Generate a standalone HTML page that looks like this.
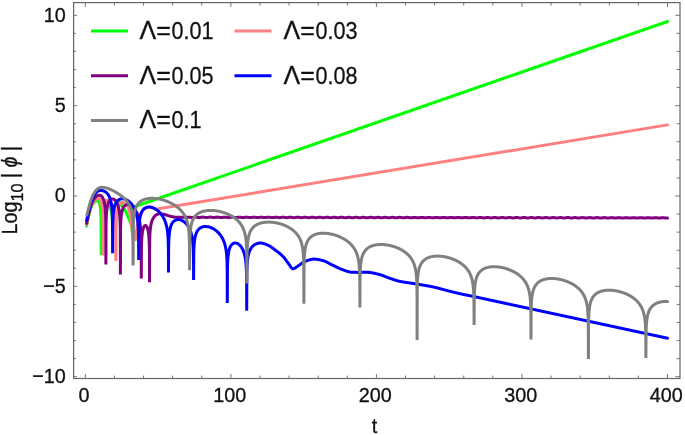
<!DOCTYPE html>
<html lang="en">
<head>
<meta charset="utf-8">
<title>Log10 |phi| versus t</title>
<style>
html,body{margin:0;padding:0;background:#fff;}
body{width:685px;height:435px;overflow:hidden;}
svg{display:block;}
text{font-family:"Liberation Sans",Arial,Helvetica,sans-serif;fill:#111;stroke:#111;stroke-width:0.3px;}
.tk text{font-size:19.8px;}
.curves path{fill:none;stroke-width:3;stroke-linejoin:bevel;stroke-linecap:round;}
</style>
</head>
<body>
<svg width="685" height="435" viewBox="0 0 685 435">
<rect width="685" height="435" fill="#ffffff"/>
<g class="curves">
<path d="M86.60,226.00 L86.80,224.97 L87.00,223.97 L87.20,222.98 L87.40,222.01 L87.60,221.05 L87.80,220.12 L88.00,219.21 L88.20,218.31 L88.40,217.44 L88.60,216.59 L88.80,215.76 L89.00,214.93 L89.20,214.11 L89.40,213.29 L89.60,212.49 L89.80,211.71 L90.00,210.96 L90.20,210.25 L90.40,209.60 L90.60,208.99 L90.80,208.45 L91.00,207.94 L91.20,207.45 L91.40,206.99 L91.60,206.54 L91.80,206.11 L92.00,205.71 L92.20,205.32 L92.40,204.96 L92.60,204.61 L92.80,204.29 L93.00,203.98 L93.20,203.69 L93.40,203.41 L93.60,203.13 L93.80,202.86 L94.00,202.61 L94.20,202.36 L94.40,202.13 L94.60,201.92 L94.80,201.73 L95.00,201.57 L95.20,201.43 L95.40,201.32 L95.60,201.21 L95.80,201.11 L96.00,201.01 L96.20,200.92 L96.40,200.84 L96.60,200.77 L96.80,200.70 L97.00,200.65 L97.20,200.62 L97.40,200.60 L97.50,200.60 L97.65,200.61 L97.80,200.64 L97.95,200.70 L98.10,200.77 L98.25,200.88 L98.40,201.01 L98.55,201.16 L98.70,201.35 L98.85,201.58 L99.00,201.84 L99.15,202.15 L99.30,202.50 L99.45,202.91 L99.60,203.39 L99.75,203.93 L99.90,204.57 L100.05,205.32 L100.20,206.21 L100.35,207.28 L100.50,208.61 L100.65,210.31 L100.80,212.63 L100.95,216.14 L101.10,223.16 L101.20,255.00 L101.35,222.29 L101.50,216.96 L101.65,213.90 L101.80,211.77 L101.95,210.15 L102.10,208.85 L102.25,207.78 L102.40,206.87 L102.55,206.10 L102.70,205.42 L102.85,204.83 L103.00,204.30 L103.15,203.84 L103.30,203.43 L103.45,203.06 L103.60,202.73 L103.75,202.44 L103.90,202.18 L104.05,201.94 L104.20,201.74 L104.35,201.56 L104.50,201.40 L104.65,201.26 L104.80,201.14 L104.95,201.04 L105.10,200.96 L105.25,200.90 L105.40,200.85 L105.55,200.82 L105.70,200.80 L105.85,200.80 L106.00,200.81 L106.15,200.84 L106.30,200.88 L106.45,200.93 L106.60,200.99 L106.75,201.07 L106.90,201.16 L107.05,201.27 L107.20,201.38 L107.35,201.51 L107.50,201.66 L107.65,201.81 L107.80,201.98 L107.95,202.16 L108.10,202.36 L108.25,202.56 L108.40,202.79 L108.55,203.03 L108.70,203.28 L108.85,203.55 L109.00,203.83 L109.15,204.13 L109.30,204.45 L109.45,204.79 L109.60,205.15 L109.75,205.53 L109.90,205.93 L110.05,206.35 L110.20,206.81 L110.35,207.29 L110.50,207.80 L110.65,208.35 L110.80,208.94 L110.95,209.57 L111.10,210.26 L111.25,211.00 L111.40,211.82 L111.55,212.71 L111.70,213.71 L111.85,214.84 L112.00,216.13 L112.15,217.65 L112.30,219.49 L112.45,221.84 L112.60,225.12 L112.75,230.67 L112.90,232.00 L113.05,224.34 L113.20,218.99 L113.35,215.89 L113.50,213.72 L113.65,212.06 L113.80,210.73 L113.95,209.62 L114.10,208.68 L114.25,207.86 L114.40,207.14 L114.55,206.51 L114.70,205.94 L114.85,205.44 L115.00,204.98 L115.15,204.56 L115.30,204.19 L115.45,203.85 L115.60,203.54 L115.75,203.26 L115.90,203.00 L116.05,202.77 L116.20,202.56 L116.35,202.37 L116.50,202.20 L116.65,202.05 L116.80,201.91 L116.95,201.79 L117.10,201.68 L117.25,201.59 L117.40,201.51 L117.55,201.44 L117.70,201.39 L117.85,201.35 L118.00,201.32 L118.15,201.31 L118.30,201.30 L118.55,201.34 L118.80,201.45 L119.05,201.61 L119.30,201.82 L119.55,202.05 L119.80,202.30 L120.05,202.64 L120.30,203.13 L120.55,203.70 L120.80,204.29 L121.05,204.84 L121.30,205.30 L121.55,205.67 L121.80,206.00 L122.05,206.30 L122.30,206.58 L122.55,206.85 L122.80,207.11 L123.05,207.36 L123.30,207.63 L123.55,207.91 L123.80,208.21 L124.05,208.54 L124.30,208.90 L124.55,209.30 L124.80,209.75 L125.05,210.22 L125.30,210.73 L125.55,211.26 L125.80,211.81 L126.05,212.37 L126.30,212.93 L126.55,213.50 L126.80,214.06 L127.05,214.61 L127.30,215.16 L127.55,215.71 L127.80,216.27 L128.05,216.83 L128.30,217.40 L128.55,217.98 L128.80,218.56 L129.05,219.16 L129.30,219.76 L129.55,220.38 L129.80,220.98 L130.05,221.56 L130.30,222.14 L130.55,222.77 L130.80,223.48 L131.05,224.32 L131.30,225.26 L131.55,226.34 L131.80,227.73 L132.05,229.58 L132.30,232.48 L132.55,234.00 L132.60,234.00 L132.85,224.11 L133.10,215.26 L133.35,211.14 L133.60,209.72 L133.85,208.80 L134.10,208.20 L134.35,207.72 L134.60,207.32 L134.85,206.98 L135.10,206.70 L135.35,206.47 L135.60,206.30 L135.85,206.16 L136.10,206.03 L136.35,205.91 L136.60,205.80 L136.85,205.70 L137.10,205.61 L137.35,205.55 L137.60,205.50 L137.85,205.47 L138.00,205.47 L667.50,21.47" stroke="#00ff00"/>
<path d="M86.60,224.50 L86.80,223.53 L87.00,222.57 L87.20,221.62 L87.40,220.70 L87.60,219.79 L87.80,218.89 L88.00,218.02 L88.20,217.16 L88.40,216.32 L88.60,215.49 L88.80,214.69 L89.00,213.90 L89.20,213.12 L89.40,212.34 L89.60,211.56 L89.80,210.79 L90.00,210.05 L90.20,209.33 L90.40,208.64 L90.60,207.99 L90.80,207.39 L91.00,206.84 L91.20,206.34 L91.40,205.86 L91.60,205.40 L91.80,204.95 L92.00,204.53 L92.20,204.12 L92.40,203.74 L92.60,203.37 L92.80,203.01 L93.00,202.68 L93.20,202.36 L93.40,202.06 L93.60,201.77 L93.80,201.50 L94.00,201.23 L94.20,200.97 L94.40,200.72 L94.60,200.47 L94.80,200.24 L95.00,200.02 L95.20,199.82 L95.40,199.63 L95.60,199.47 L95.80,199.32 L96.00,199.20 L96.20,199.10 L96.40,199.00 L96.60,198.91 L96.80,198.82 L97.00,198.73 L97.20,198.65 L97.40,198.58 L97.60,198.52 L97.80,198.47 L98.00,198.43 L98.20,198.41 L98.40,198.40 L98.55,198.41 L98.70,198.43 L98.85,198.46 L99.00,198.51 L99.15,198.58 L99.30,198.66 L99.45,198.75 L99.60,198.87 L99.75,199.01 L99.90,199.16 L100.05,199.34 L100.20,199.55 L100.35,199.78 L100.50,200.03 L100.65,200.33 L100.80,200.65 L100.95,201.02 L101.10,201.43 L101.25,201.90 L101.40,202.43 L101.55,203.03 L101.70,203.72 L101.85,204.52 L102.00,205.45 L102.15,206.57 L102.30,207.94 L102.45,209.69 L102.60,212.04 L102.75,215.58 L102.90,222.64 L103.00,255.50 L103.15,221.34 L103.30,216.04 L103.45,213.01 L103.60,210.90 L103.75,209.30 L103.90,208.03 L104.05,206.98 L104.20,206.10 L104.35,205.34 L104.50,204.69 L104.65,204.12 L104.80,203.61 L104.95,203.17 L105.10,202.77 L105.25,202.42 L105.40,202.11 L105.55,201.83 L105.70,201.58 L105.85,201.36 L106.00,201.17 L106.15,201.00 L106.30,200.85 L106.45,200.72 L106.60,200.62 L106.75,200.52 L106.90,200.45 L107.05,200.39 L107.20,200.35 L107.35,200.32 L107.50,200.30 L107.65,200.30 L107.80,200.31 L107.95,200.33 L108.10,200.37 L108.25,200.42 L108.40,200.47 L108.55,200.54 L108.70,200.62 L108.85,200.71 L109.00,200.82 L109.15,200.93 L109.30,201.05 L109.45,201.19 L109.60,201.33 L109.75,201.48 L109.90,201.65 L110.05,201.82 L110.20,202.01 L110.35,202.21 L110.50,202.42 L110.65,202.63 L110.80,202.87 L110.95,203.11 L111.10,203.36 L111.25,203.63 L111.40,203.91 L111.55,204.20 L111.70,204.51 L111.85,204.83 L112.00,205.16 L112.15,205.52 L112.30,205.88 L112.45,206.27 L112.60,206.68 L112.75,207.10 L112.90,207.55 L113.05,208.02 L113.20,208.52 L113.35,209.04 L113.50,209.60 L113.65,210.19 L113.80,210.81 L113.95,211.49 L114.10,212.21 L114.25,212.99 L114.40,213.84 L114.55,214.77 L114.70,215.80 L114.85,216.97 L115.00,218.29 L115.15,219.84 L115.30,221.72 L115.45,224.10 L115.60,227.41 L115.75,232.98 L115.90,260.90 L116.05,227.40 L116.20,222.01 L116.35,218.88 L116.50,216.67 L116.65,214.98 L116.80,213.60 L116.95,212.46 L117.10,211.47 L117.25,210.61 L117.40,209.86 L117.55,209.18 L117.70,208.58 L117.85,208.03 L118.00,207.53 L118.15,207.07 L118.30,206.65 L118.45,206.27 L118.60,205.92 L118.75,205.59 L118.90,205.29 L119.05,205.01 L119.20,204.75 L119.35,204.52 L119.50,204.30 L119.65,204.09 L119.80,203.91 L119.95,203.74 L120.10,203.58 L120.25,203.44 L120.40,203.31 L120.55,203.19 L120.70,203.08 L120.85,202.99 L121.00,202.90 L121.15,202.83 L121.30,202.77 L121.45,202.72 L121.60,202.67 L121.75,202.64 L121.90,202.62 L122.05,202.60 L122.20,202.60 L122.45,202.62 L122.70,202.66 L122.95,202.72 L123.20,202.80 L123.45,202.88 L123.70,202.98 L123.95,203.08 L124.20,203.20 L124.45,203.32 L124.70,203.45 L124.95,203.57 L125.20,203.71 L125.45,203.87 L125.70,204.04 L125.95,204.24 L126.20,204.46 L126.45,204.70 L126.70,204.96 L126.95,205.24 L127.20,205.54 L127.45,205.87 L127.70,206.25 L127.95,206.69 L128.20,207.21 L128.45,207.79 L128.70,208.43 L128.95,209.15 L129.20,210.04 L129.45,211.11 L129.70,212.33 L129.95,213.63 L130.20,215.06 L130.45,216.70 L130.70,218.46 L130.95,220.26 L131.20,222.02 L131.45,223.80 L131.70,225.67 L131.95,227.71 L132.20,230.00 L132.45,232.65 L132.70,235.82 L132.95,239.43 L133.20,240.00 L133.45,240.00 L133.60,238.54 L133.75,235.61 L133.90,233.72 L134.05,232.45 L134.20,231.62 L134.35,231.15 L134.50,231.00 L134.65,231.15 L134.80,231.62 L134.95,232.45 L135.10,233.72 L135.25,235.61 L135.40,238.54 L135.55,239.70 L135.95,239.70 L136.20,237.02 L136.45,233.69 L136.70,230.97 L136.95,228.51 L137.20,226.25 L137.45,224.24 L137.70,222.55 L137.95,221.22 L138.20,220.21 L138.45,219.33 L138.70,218.57 L138.95,217.89 L139.20,217.28 L139.45,216.71 L139.70,216.16 L139.95,215.61 L140.20,215.06 L140.45,214.53 L140.70,214.04 L140.95,213.56 L141.20,213.11 L141.45,212.68 L141.70,212.27 L141.95,211.86 L142.20,211.47 L142.45,211.11 L142.70,210.77 L142.95,210.46 L143.20,210.18 L143.45,209.91 L143.70,209.65 L143.95,209.40 L144.20,209.18 L144.45,208.97 L144.70,208.79 L144.95,208.63 L145.20,208.49 L145.45,208.36 L145.70,208.25 L145.95,208.14 L146.20,208.04 L146.45,207.95 L146.70,207.87 L146.95,207.81 L147.20,207.76 L147.45,207.70 L147.70,207.65 L147.95,207.60 L148.20,207.56 L148.45,207.53 L148.70,207.51 L148.95,207.50 L149.20,207.50 L149.45,207.51 L149.70,207.53 L149.95,207.56 L150.20,207.59 L150.45,207.62 L150.70,207.66 L150.95,207.69 L151.20,207.73 L151.45,207.78 L151.70,207.84 L151.95,207.90 L152.20,207.97 L152.45,208.04 L152.70,208.11 L152.95,208.19 L153.20,208.27 L153.45,208.36 L153.70,208.47 L153.95,208.59 L154.20,208.69 L154.45,208.78 L154.70,208.85 L154.95,208.90 L155.20,208.91 L155.45,208.93 L155.70,208.94 L155.95,208.95 L156.20,208.96 L156.45,208.96 L156.70,208.97 L156.95,208.97 L157.20,208.97 L157.45,208.95 L157.70,208.92 L157.95,208.89 L158.20,208.84 L158.45,208.80 L158.70,208.74 L158.95,208.69 L159.20,208.64 L159.45,208.58 L159.70,208.53 L159.95,208.49 L160.20,208.45 L160.45,208.41 L160.70,208.37 L160.95,208.32 L161.20,208.28 L161.45,208.24 L161.70,208.20 L161.95,208.16 L162.20,208.12 L162.45,208.08 L162.70,208.04 L162.95,208.00 L163.20,207.95 L163.45,207.91 L163.70,207.87 L163.95,207.83 L164.20,207.79 L164.45,207.75 L164.70,207.71 L164.95,207.66 L165.20,207.62 L165.45,207.58 L165.70,207.54 L165.95,207.50 L166.00,207.49 L667.50,124.89" stroke="#ff8080"/>
<path d="M86.60,223.30 L86.80,222.33 L87.00,221.36 L87.20,220.42 L87.40,219.49 L87.60,218.57 L87.80,217.67 L88.00,216.79 L88.20,215.92 L88.40,215.07 L88.60,214.23 L88.80,213.41 L89.00,212.61 L89.20,211.83 L89.40,211.04 L89.60,210.26 L89.80,209.48 L90.00,208.71 L90.20,207.96 L90.40,207.23 L90.60,206.53 L90.80,205.86 L91.00,205.23 L91.20,204.65 L91.40,204.12 L91.60,203.62 L91.80,203.15 L92.00,202.69 L92.20,202.25 L92.40,201.82 L92.60,201.42 L92.80,201.03 L93.00,200.65 L93.20,200.29 L93.40,199.95 L93.60,199.62 L93.80,199.31 L94.00,199.02 L94.20,198.74 L94.40,198.47 L94.60,198.20 L94.80,197.94 L95.00,197.69 L95.20,197.45 L95.40,197.21 L95.60,196.99 L95.80,196.78 L96.00,196.59 L96.20,196.42 L96.40,196.26 L96.60,196.13 L96.80,196.02 L97.00,195.92 L97.20,195.82 L97.40,195.73 L97.60,195.64 L97.80,195.55 L98.00,195.47 L98.20,195.40 L98.40,195.34 L98.60,195.29 L98.80,195.25 L99.00,195.22 L99.20,195.20 L99.30,195.20 L99.45,195.20 L99.60,195.22 L99.75,195.24 L99.90,195.27 L100.05,195.31 L100.20,195.36 L100.35,195.41 L100.50,195.48 L100.65,195.56 L100.80,195.64 L100.95,195.74 L101.10,195.85 L101.25,195.97 L101.40,196.10 L101.55,196.24 L101.70,196.40 L101.85,196.57 L102.00,196.75 L102.15,196.95 L102.30,197.16 L102.45,197.39 L102.60,197.64 L102.75,197.91 L102.90,198.20 L103.05,198.51 L103.20,198.84 L103.35,199.21 L103.50,199.60 L103.65,200.03 L103.80,200.49 L103.95,201.00 L104.10,201.55 L104.25,202.17 L104.40,202.85 L104.55,203.62 L104.70,204.48 L104.85,205.47 L105.00,206.63 L105.15,208.01 L105.30,209.71 L105.45,211.92 L105.60,215.06 L105.75,220.46 L105.90,264.60 L106.05,224.16 L106.20,218.76 L106.35,215.62 L106.50,213.41 L106.65,211.71 L106.80,210.33 L106.95,209.17 L107.10,208.18 L107.25,207.32 L107.40,206.55 L107.55,205.87 L107.70,205.25 L107.85,204.70 L108.00,204.19 L108.15,203.73 L108.30,203.30 L108.45,202.91 L108.60,202.54 L108.75,202.21 L108.90,201.90 L109.05,201.61 L109.20,201.34 L109.35,201.09 L109.50,200.86 L109.65,200.65 L109.80,200.45 L109.95,200.27 L110.10,200.10 L110.25,199.94 L110.40,199.80 L110.55,199.67 L110.70,199.55 L110.85,199.44 L111.00,199.34 L111.15,199.26 L111.30,199.18 L111.45,199.11 L111.60,199.06 L111.75,199.01 L111.90,198.97 L112.05,198.94 L112.20,198.92 L112.35,198.90 L112.50,198.90 L112.65,198.90 L112.80,198.92 L112.95,198.94 L113.10,198.97 L113.25,199.00 L113.40,199.05 L113.55,199.10 L113.70,199.17 L113.85,199.24 L114.00,199.32 L114.15,199.41 L114.30,199.50 L114.45,199.61 L114.60,199.72 L114.75,199.85 L114.90,199.98 L115.05,200.12 L115.20,200.27 L115.35,200.44 L115.50,200.61 L115.65,200.79 L115.80,200.99 L115.95,201.20 L116.10,201.42 L116.25,201.65 L116.40,201.89 L116.55,202.15 L116.70,202.43 L116.85,202.72 L117.00,203.03 L117.15,203.36 L117.30,203.70 L117.45,204.07 L117.60,204.46 L117.75,204.88 L117.90,205.32 L118.05,205.80 L118.20,206.31 L118.35,206.86 L118.50,207.46 L118.65,208.10 L118.80,208.81 L118.95,209.59 L119.10,210.46 L119.25,211.44 L119.40,212.55 L119.55,213.84 L119.70,215.39 L119.85,217.31 L120.00,219.83 L120.15,223.55 L120.30,230.78 L120.40,274.40 L120.55,229.18 L120.70,223.83 L120.85,220.74 L121.00,218.58 L121.15,216.92 L121.30,215.58 L121.45,214.47 L121.60,213.52 L121.75,212.69 L121.90,211.97 L122.05,211.32 L122.20,210.74 L122.35,210.22 L122.50,209.74 L122.65,209.30 L122.80,208.91 L122.95,208.54 L123.10,208.20 L123.25,207.89 L123.40,207.60 L123.55,207.33 L123.70,207.08 L123.85,206.85 L124.00,206.64 L124.15,206.44 L124.30,206.25 L124.45,206.08 L124.60,205.92 L124.75,205.77 L124.90,205.63 L125.05,205.50 L125.20,205.39 L125.35,205.28 L125.50,205.18 L125.65,205.08 L125.80,205.00 L125.95,204.92 L126.10,204.85 L126.25,204.79 L126.40,204.73 L126.55,204.68 L126.70,204.64 L126.85,204.60 L127.00,204.57 L127.15,204.55 L127.30,204.53 L127.45,204.51 L127.60,204.50 L127.75,204.50 L127.90,204.50 L128.05,204.51 L128.20,204.52 L128.35,204.53 L128.50,204.55 L128.65,204.58 L128.80,204.61 L128.95,204.64 L129.10,204.68 L129.25,204.72 L129.40,204.76 L129.55,204.81 L129.70,204.87 L129.85,204.93 L130.00,204.99 L130.15,205.06 L130.30,205.13 L130.45,205.20 L130.60,205.28 L130.75,205.36 L130.90,205.45 L131.05,205.54 L131.20,205.63 L131.35,205.73 L131.50,205.84 L131.65,205.94 L131.80,206.05 L131.95,206.17 L132.10,206.29 L132.25,206.41 L132.40,206.54 L132.55,206.67 L132.70,206.80 L132.85,206.94 L133.00,207.09 L133.15,207.24 L133.30,207.39 L133.45,207.55 L133.60,207.71 L133.75,207.88 L133.90,208.05 L134.05,208.23 L134.20,208.41 L134.35,208.60 L134.50,208.79 L134.65,208.99 L134.80,209.19 L134.95,209.40 L135.10,209.62 L135.25,209.84 L135.40,210.07 L135.55,210.30 L135.70,210.55 L135.85,210.79 L136.00,211.05 L136.15,211.32 L136.30,211.59 L136.45,211.87 L136.60,212.16 L136.75,212.46 L136.90,212.77 L137.05,213.09 L137.20,213.42 L137.35,213.76 L137.50,214.12 L137.65,214.49 L137.80,214.87 L137.95,215.27 L138.10,215.69 L138.25,216.13 L138.40,216.58 L138.55,217.06 L138.70,217.56 L138.85,218.10 L139.00,218.66 L139.15,219.25 L139.30,219.89 L139.45,220.57 L139.60,221.31 L139.75,222.11 L139.90,222.98 L140.05,223.94 L140.20,225.02 L140.35,226.25 L140.50,227.68 L140.65,229.39 L140.80,231.53 L140.95,234.41 L141.10,238.89 L141.25,249.86 L141.30,278.50 L141.45,247.92 L141.60,242.49 L141.75,239.33 L141.90,237.11 L142.05,235.40 L142.20,234.01 L142.35,232.86 L142.50,231.88 L142.65,231.03 L142.80,230.28 L142.95,229.63 L143.10,229.05 L143.25,228.53 L143.40,228.07 L143.55,227.66 L143.70,227.30 L143.85,226.97 L144.00,226.69 L144.15,226.44 L144.30,226.22 L144.45,226.03 L144.60,225.87 L144.75,225.75 L144.90,225.64 L145.05,225.57 L145.20,225.52 L145.35,225.50 L145.50,225.51 L145.65,225.54 L145.80,225.59 L145.95,225.68 L146.10,225.79 L146.25,225.92 L146.40,226.09 L146.55,226.29 L146.70,226.52 L146.85,226.78 L147.00,227.08 L147.15,227.41 L147.30,227.79 L147.45,228.22 L147.60,228.70 L147.75,229.23 L147.90,229.84 L148.05,230.52 L148.20,231.30 L148.35,232.19 L148.50,233.22 L148.65,234.44 L148.80,235.92 L148.95,237.78 L149.10,240.25 L149.25,243.92 L149.40,251.10 L149.50,282.20 L149.65,242.38 L149.80,236.97 L149.95,233.82 L150.10,231.60 L150.25,229.88 L150.40,228.49 L150.55,227.32 L150.70,226.31 L150.85,225.42 L151.00,224.63 L151.15,223.93 L151.30,223.29 L151.45,222.70 L151.60,222.16 L151.75,221.67 L151.90,221.21 L152.05,220.78 L152.20,220.38 L152.35,220.01 L152.50,219.65 L152.65,219.32 L152.80,219.01 L152.95,218.71 L153.10,218.43 L153.25,218.17 L153.40,217.92 L153.55,217.68 L153.70,217.45 L153.85,217.24 L154.00,217.03 L154.15,216.84 L154.30,216.65 L154.45,216.48 L154.60,216.31 L154.75,216.15 L154.90,215.99 L155.05,215.85 L155.20,215.71 L155.35,215.57 L155.50,215.45 L155.65,215.33 L155.80,215.21 L155.95,215.10 L156.10,215.00 L156.25,214.90 L156.40,214.81 L156.55,214.72 L156.70,214.64 L156.85,214.56 L157.00,214.48 L157.15,214.41 L157.30,214.35 L157.45,214.29 L157.60,214.23 L157.75,214.17 L157.90,214.12 L158.05,214.08 L158.20,214.04 L158.35,214.00 L158.50,213.96 L158.65,213.93 L158.80,213.90 L158.95,213.88 L159.10,213.86 L159.25,213.84 L159.40,213.83 L159.55,213.81 L159.70,213.81 L159.85,213.80 L160.00,213.80 L160.25,213.82 L160.50,213.85 L160.75,213.87 L161.00,213.90 L161.25,213.93 L161.50,213.96 L161.75,214.00 L162.00,214.04 L162.25,214.08 L162.50,214.12 L162.75,214.16 L163.00,214.20 L163.25,214.25 L163.50,214.30 L163.75,214.34 L164.00,214.39 L164.25,214.44 L164.50,214.49 L164.75,214.55 L165.00,214.60 L165.25,214.66 L165.50,214.72 L165.75,214.79 L166.00,214.87 L166.25,214.95 L166.50,215.03 L166.75,215.12 L167.00,215.21 L167.25,215.31 L167.50,215.40 L167.75,215.49 L168.00,215.58 L168.25,215.68 L168.50,215.76 L168.75,215.85 L169.00,215.93 L169.25,216.01 L169.50,216.08 L169.75,216.14 L170.00,216.20 L170.25,216.25 L170.50,216.31 L170.75,216.36 L171.00,216.42 L171.25,216.47 L171.50,216.53 L171.75,216.58 L172.00,216.64 L172.25,216.69 L172.50,216.74 L172.75,216.79 L173.00,216.84 L173.25,216.89 L173.50,216.94 L173.75,216.98 L174.00,217.02 L174.25,217.07 L174.50,217.10 L174.75,217.14 L175.00,217.17 L175.25,217.20 L175.50,217.22 L175.75,217.25 L176.00,217.27 L176.25,217.28 L176.50,217.29 L176.75,217.30 L177.00,217.30 L190.00,217.30 L190.50,217.39 L191.00,217.47 L191.50,217.51 L192.00,217.52 L192.50,217.49 L193.00,217.42 L193.50,217.33 L194.00,217.24 L194.50,217.16 L195.00,217.10 L195.50,217.09 L196.00,217.11 L196.50,217.17 L197.00,217.25 L197.50,217.35 L198.00,217.43 L198.50,217.50 L199.00,217.53 L199.50,217.52 L200.00,217.47 L200.50,217.40 L201.00,217.30 L201.50,217.21 L202.00,217.14 L202.50,217.10 L203.00,217.10 L203.50,217.14 L204.00,217.21 L204.50,217.30 L205.00,217.39 L205.50,217.47 L206.00,217.53 L206.50,217.54 L207.00,217.51 L207.50,217.45 L208.00,217.37 L208.50,217.28 L209.00,217.19 L209.50,217.13 L210.00,217.11 L210.50,217.12 L211.00,217.17 L211.50,217.25 L212.00,217.35 L212.50,217.44 L213.00,217.51 L213.50,217.55 L214.00,217.54 L214.50,217.50 L215.00,217.43 L215.50,217.34 L216.00,217.25 L216.50,217.17 L217.00,217.13 L217.50,217.12 L218.00,217.15 L218.50,217.21 L219.00,217.30 L219.50,217.39 L220.00,217.48 L220.50,217.54 L221.00,217.56 L221.50,217.54 L222.00,217.49 L222.50,217.41 L223.00,217.31 L223.50,217.23 L224.00,217.16 L224.50,217.13 L225.00,217.13 L225.50,217.18 L226.00,217.25 L226.50,217.35 L227.00,217.44 L227.50,217.51 L228.00,217.56 L228.50,217.57 L229.00,217.53 L229.50,217.47 L230.00,217.38 L230.50,217.29 L231.00,217.20 L231.50,217.15 L232.00,217.13 L232.50,217.16 L233.00,217.21 L233.50,217.30 L234.00,217.39 L234.50,217.48 L235.00,217.55 L235.50,217.58 L236.00,217.57 L236.50,217.52 L237.00,217.44 L237.50,217.35 L238.00,217.26 L238.50,217.19 L239.00,217.15 L239.50,217.15 L240.00,217.18 L240.50,217.25 L241.00,217.35 L241.50,217.44 L242.00,217.52 L242.50,217.57 L243.00,217.59 L243.50,217.56 L244.00,217.50 L244.50,217.42 L245.00,217.32 L245.50,217.24 L246.00,217.18 L246.50,217.15 L247.00,217.17 L247.50,217.22 L248.00,217.30 L248.50,217.39 L249.00,217.48 L249.50,217.55 L250.00,217.59 L250.50,217.59 L251.00,217.55 L251.50,217.48 L252.00,217.39 L252.50,217.30 L253.00,217.22 L253.50,217.17 L254.00,217.16 L254.50,217.19 L255.00,217.26 L255.50,217.34 L256.00,217.44 L256.50,217.52 L257.00,217.58 L257.50,217.60 L258.00,217.59 L258.50,217.53 L259.00,217.45 L259.50,217.36 L260.00,217.27 L260.50,217.20 L261.00,217.17 L261.50,217.18 L262.00,217.22 L262.50,217.30 L263.00,217.39 L263.50,217.48 L264.00,217.56 L264.50,217.61 L265.00,217.61 L265.50,217.58 L266.00,217.51 L266.50,217.42 L267.00,217.33 L267.50,217.25 L268.00,217.20 L268.50,217.18 L269.00,217.20 L269.50,217.26 L270.00,217.34 L270.50,217.44 L271.00,217.53 L271.50,217.59 L272.00,217.62 L272.50,217.61 L273.00,217.56 L273.50,217.49 L274.00,217.40 L274.50,217.31 L275.00,217.23 L275.50,217.19 L276.00,217.19 L276.50,217.23 L277.00,217.30 L277.50,217.39 L278.00,217.48 L278.50,217.57 L279.00,217.62 L279.50,217.63 L280.00,217.61 L280.50,217.55 L281.00,217.46 L281.50,217.37 L282.00,217.28 L282.50,217.22 L283.00,217.20 L283.50,217.21 L284.00,217.26 L284.50,217.34 L285.00,217.44 L285.50,217.53 L286.00,217.60 L286.50,217.64 L287.00,217.64 L287.50,217.60 L288.00,217.52 L288.50,217.43 L289.00,217.34 L289.50,217.26 L290.00,217.22 L290.50,217.21 L291.00,217.24 L291.50,217.30 L292.00,217.39 L292.50,217.48 L293.00,217.57 L293.50,217.63 L294.00,217.65 L294.50,217.63 L295.00,217.58 L295.50,217.50 L296.00,217.40 L296.50,217.32 L297.00,217.25 L297.50,217.22 L298.00,217.22 L298.50,217.27 L299.00,217.35 L299.50,217.44 L300.00,217.53 L300.50,217.61 L301.00,217.65 L301.50,217.66 L302.00,217.62 L302.50,217.56 L303.00,217.47 L303.50,217.38 L304.00,217.30 L304.50,217.24 L305.00,217.22 L305.50,217.25 L306.00,217.31 L306.50,217.39 L307.00,217.48 L307.50,217.57 L308.00,217.64 L308.50,217.67 L309.00,217.66 L309.50,217.61 L310.00,217.53 L310.50,217.44 L311.00,217.35 L311.50,217.28 L312.00,217.24 L312.50,217.24 L313.00,217.28 L313.50,217.35 L314.00,217.44 L314.50,217.53 L315.00,217.61 L315.50,217.66 L316.00,217.68 L316.50,217.65 L317.00,217.59 L317.50,217.51 L318.00,217.41 L318.50,217.33 L319.00,217.27 L319.50,217.24 L320.00,217.26 L320.50,217.31 L321.00,217.39 L321.50,217.48 L322.00,217.57 L322.50,217.65 L323.00,217.68 L323.50,217.68 L324.00,217.64 L324.50,217.57 L325.00,217.48 L325.50,217.39 L326.00,217.31 L326.50,217.26 L327.00,217.25 L327.50,217.28 L328.00,217.35 L328.50,217.44 L329.00,217.53 L329.50,217.62 L330.00,217.67 L330.50,217.70 L331.00,217.68 L331.50,217.62 L332.00,217.54 L332.50,217.45 L333.00,217.36 L333.50,217.30 L334.00,217.26 L334.50,217.27 L335.00,217.32 L335.50,217.39 L336.00,217.48 L336.50,217.58 L337.00,217.65 L337.50,217.70 L338.00,217.70 L338.50,217.67 L339.00,217.60 L339.50,217.52 L340.00,217.42 L340.50,217.34 L341.00,217.29 L341.50,217.27 L342.00,217.29 L342.50,217.35 L343.00,217.44 L343.50,217.53 L344.00,217.62 L344.50,217.68 L345.00,217.71 L345.50,217.70 L346.00,217.66 L346.50,217.58 L347.00,217.49 L347.50,217.40 L348.00,217.33 L348.50,217.29 L349.00,217.28 L349.50,217.32 L350.00,217.39 L350.50,217.48 L351.00,217.58 L351.50,217.66 L352.00,217.71 L352.50,217.72 L353.00,217.70 L353.50,217.64 L354.00,217.55 L354.50,217.46 L355.00,217.37 L355.50,217.31 L356.00,217.29 L356.50,217.30 L357.00,217.36 L357.50,217.44 L358.00,217.53 L358.50,217.62 L359.00,217.69 L359.50,217.73 L360.00,217.73 L360.50,217.69 L361.00,217.62 L361.50,217.52 L362.00,217.43 L362.50,217.36 L363.00,217.31 L363.50,217.30 L364.00,217.33 L364.50,217.39 L365.00,217.48 L365.50,217.58 L366.00,217.66 L366.50,217.72 L367.00,217.74 L367.50,217.72 L368.00,217.67 L368.50,217.59 L369.00,217.50 L369.50,217.41 L370.00,217.34 L370.50,217.31 L371.00,217.32 L371.50,217.36 L372.00,217.44 L372.50,217.53 L373.00,217.62 L373.50,217.70 L374.00,217.74 L374.50,217.75 L375.00,217.72 L375.50,217.65 L376.00,217.56 L376.50,217.47 L377.00,217.39 L377.50,217.33 L378.00,217.32 L378.50,217.34 L379.00,217.40 L379.50,217.48 L380.00,217.58 L380.50,217.66 L381.00,217.73 L381.50,217.76 L382.00,217.75 L382.50,217.70 L383.00,217.63 L383.50,217.53 L384.00,217.44 L384.50,217.37 L385.00,217.33 L385.50,217.33 L386.00,217.37 L386.50,217.44 L387.00,217.53 L387.50,217.62 L388.00,217.70 L388.50,217.75 L389.00,217.77 L389.50,217.74 L390.00,217.68 L390.50,217.60 L391.00,217.51 L391.50,217.42 L392.00,217.36 L392.50,217.33 L393.00,217.35 L393.50,217.40 L394.00,217.48 L394.50,217.58 L395.00,217.67 L395.50,217.74 L396.00,217.77 L396.50,217.77 L397.00,217.73 L397.50,217.66 L398.00,217.57 L398.50,217.48 L399.00,217.40 L399.50,217.35 L400.00,217.35 L400.50,217.38 L401.00,217.44 L401.50,217.53 L402.00,217.62 L402.50,217.71 L403.00,217.77 L403.50,217.79 L404.00,217.77 L404.50,217.72 L405.00,217.64 L405.50,217.54 L406.00,217.45 L406.50,217.39 L407.00,217.36 L407.50,217.36 L408.00,217.41 L408.50,217.48 L409.00,217.58 L409.50,217.67 L410.00,217.74 L410.50,217.79 L411.00,217.80 L411.50,217.76 L412.00,217.70 L412.50,217.61 L413.00,217.51 L413.50,217.43 L414.00,217.38 L414.50,217.36 L415.00,217.38 L415.50,217.44 L416.00,217.53 L416.50,217.62 L417.00,217.71 L417.50,217.77 L418.00,217.81 L418.50,217.80 L419.00,217.75 L419.50,217.67 L420.00,217.58 L420.50,217.49 L421.00,217.42 L421.50,217.38 L422.00,217.38 L422.50,217.41 L423.00,217.48 L423.50,217.57 L424.00,217.67 L424.50,217.75 L425.00,217.80 L425.50,217.82 L426.00,217.79 L426.50,217.73 L427.00,217.64 L427.50,217.55 L428.00,217.47 L428.50,217.41 L429.00,217.38 L429.50,217.40 L430.00,217.45 L430.50,217.53 L431.00,217.62 L431.50,217.71 L432.00,217.78 L432.50,217.82 L433.00,217.82 L433.50,217.78 L434.00,217.71 L434.50,217.62 L435.00,217.52 L435.50,217.45 L436.00,217.40 L436.50,217.39 L437.00,217.42 L437.50,217.49 L438.00,217.57 L438.50,217.67 L439.00,217.75 L439.50,217.81 L440.00,217.83 L440.50,217.82 L441.00,217.76 L441.50,217.68 L442.00,217.59 L442.50,217.50 L443.00,217.43 L443.50,217.40 L444.00,217.41 L444.50,217.45 L445.00,217.53 L445.50,217.62 L446.00,217.71 L446.50,217.79 L447.00,217.83 L447.50,217.84 L448.00,217.81 L448.50,217.74 L449.00,217.65 L449.50,217.56 L450.00,217.48 L450.50,217.43 L451.00,217.41 L451.50,217.43 L452.00,217.49 L452.50,217.57 L453.00,217.67 L453.50,217.76 L454.00,217.82 L454.50,217.85 L455.00,217.84 L455.50,217.79 L456.00,217.72 L456.50,217.63 L457.00,217.54 L457.50,217.46 L458.00,217.42 L458.50,217.42 L459.00,217.46 L459.50,217.53 L460.00,217.62 L460.50,217.71 L461.00,217.79 L461.50,217.85 L462.00,217.86 L462.50,217.84 L463.00,217.78 L463.50,217.69 L464.00,217.60 L464.50,217.51 L465.00,217.45 L465.50,217.43 L466.00,217.44 L466.50,217.49 L467.00,217.57 L467.50,217.67 L468.00,217.76 L468.50,217.83 L469.00,217.87 L469.50,217.87 L470.00,217.82 L470.50,217.75 L471.00,217.66 L471.50,217.57 L472.00,217.49 L472.50,217.45 L473.00,217.44 L473.50,217.47 L474.00,217.53 L474.50,217.62 L475.00,217.71 L475.50,217.80 L476.00,217.86 L476.50,217.88 L477.00,217.86 L477.50,217.81 L478.00,217.73 L478.50,217.63 L479.00,217.55 L479.50,217.48 L480.00,217.45 L480.50,217.45 L481.00,217.50 L481.50,217.57 L482.00,217.67 L482.50,217.76 L483.00,217.83 L483.50,217.88 L484.00,217.89 L484.50,217.85 L485.00,217.79 L485.50,217.70 L486.00,217.61 L486.50,217.53 L487.00,217.47 L487.50,217.45 L488.00,217.48 L488.50,217.54 L489.00,217.62 L489.50,217.71 L490.00,217.80 L490.50,217.87 L491.00,217.90 L491.50,217.89 L492.00,217.84 L492.50,217.76 L493.00,217.67 L493.50,217.58 L494.00,217.51 L494.50,217.47 L495.00,217.47 L495.50,217.51 L496.00,217.58 L496.50,217.67 L497.00,217.76 L497.50,217.84 L498.00,217.89 L498.50,217.91 L499.00,217.88 L499.50,217.82 L500.00,217.74 L500.50,217.64 L501.00,217.56 L501.50,217.50 L502.00,217.47 L502.50,217.49 L503.00,217.54 L503.50,217.62 L504.00,217.71 L504.50,217.80 L505.00,217.87 L505.50,217.91 L506.00,217.91 L506.50,217.87 L507.00,217.80 L507.50,217.71 L508.00,217.62 L508.50,217.54 L509.00,217.49 L509.50,217.48 L510.00,217.51 L510.50,217.58 L511.00,217.67 L511.50,217.76 L512.00,217.84 L512.50,217.90 L513.00,217.93 L513.50,217.91 L514.00,217.85 L514.50,217.77 L515.00,217.68 L515.50,217.59 L516.00,217.53 L516.50,217.49 L517.00,217.50 L517.50,217.54 L518.00,217.62 L518.50,217.71 L519.00,217.81 L519.50,217.88 L520.00,217.93 L520.50,217.93 L521.00,217.90 L521.50,217.83 L522.00,217.75 L522.50,217.65 L523.00,217.57 L523.50,217.52 L524.00,217.50 L524.50,217.52 L525.00,217.58 L525.50,217.67 L526.00,217.76 L526.50,217.85 L527.00,217.91 L527.50,217.94 L528.00,217.93 L528.50,217.89 L529.00,217.81 L529.50,217.72 L530.00,217.63 L530.50,217.56 L531.00,217.51 L531.50,217.51 L532.00,217.55 L532.50,217.62 L533.00,217.71 L533.50,217.81 L534.00,217.89 L534.50,217.94 L535.00,217.95 L535.50,217.93 L536.00,217.87 L536.50,217.78 L537.00,217.69 L537.50,217.60 L538.00,217.54 L538.50,217.52 L539.00,217.53 L539.50,217.59 L540.00,217.67 L540.50,217.76 L541.00,217.85 L541.50,217.92 L542.00,217.96 L542.50,217.96 L543.00,217.92 L543.50,217.84 L544.00,217.75 L544.50,217.66 L545.00,217.59 L545.50,217.54 L546.00,217.53 L546.50,217.56 L547.00,217.62 L547.50,217.71 L548.00,217.81 L548.50,217.89 L549.00,217.95 L549.50,217.97 L550.00,217.95 L550.50,217.90 L551.00,217.82 L551.50,217.73 L552.00,217.64 L552.50,217.57 L553.00,217.54 L553.50,217.55 L554.00,217.59 L554.50,217.67 L555.00,217.76 L555.50,217.85 L556.00,217.93 L556.50,217.97 L557.00,217.98 L557.50,217.95 L558.00,217.88 L558.50,217.79 L559.00,217.70 L559.50,217.62 L560.00,217.56 L560.50,217.55 L561.00,217.57 L561.50,217.63 L562.00,217.71 L562.50,217.81 L563.00,217.89 L563.50,217.96 L564.00,217.99 L564.50,217.98 L565.00,217.93 L565.50,217.85 L566.00,217.76 L566.50,217.67 L567.00,217.60 L567.50,217.56 L568.00,217.56 L568.50,217.60 L569.00,217.67 L569.50,217.76 L570.00,217.85 L570.50,217.93 L571.00,217.98 L571.50,218.00 L572.00,217.97 L572.50,217.91 L573.00,217.83 L573.50,217.73 L574.00,217.65 L574.50,217.59 L575.00,217.56 L575.50,217.58 L576.00,217.63 L576.50,217.71 L577.00,217.81 L577.50,217.90 L578.00,217.97 L578.50,218.00 L579.00,218.00 L579.50,217.96 L580.00,217.89 L580.50,217.80 L581.00,217.71 L581.50,217.63 L582.00,217.58 L582.50,217.57 L583.00,217.60 L583.50,217.67 L584.00,217.76 L584.50,217.85 L585.00,217.94 L585.50,217.99 L586.00,218.02 L586.50,218.00 L587.00,217.95 L587.50,217.86 L588.00,217.77 L588.50,217.68 L589.00,217.62 L589.50,217.58 L590.00,217.59 L590.50,217.64 L591.00,217.71 L591.50,217.80 L592.00,217.90 L592.50,217.97 L593.00,218.02 L593.50,218.02 L594.00,217.99 L594.50,217.93 L595.00,217.84 L595.50,217.74 L596.00,217.66 L596.50,217.61 L597.00,217.59 L597.50,217.61 L598.00,217.67 L598.50,217.76 L599.00,217.85 L599.50,217.94 L600.00,218.00 L600.50,218.03 L601.00,218.03 L601.50,217.98 L602.00,217.90 L602.50,217.81 L603.00,217.72 L603.50,217.65 L604.00,217.61 L604.50,217.60 L605.00,217.64 L605.50,217.71 L606.00,217.80 L606.50,217.90 L607.00,217.98 L607.50,218.03 L608.00,218.04 L608.50,218.02 L609.00,217.96 L609.50,217.87 L610.00,217.78 L610.50,217.70 L611.00,217.64 L611.50,217.61 L612.00,217.62 L612.50,217.68 L613.00,217.76 L613.50,217.85 L614.00,217.94 L614.50,218.01 L615.00,218.05 L615.50,218.05 L616.00,218.01 L616.50,217.94 L617.00,217.85 L617.50,217.75 L618.00,217.68 L618.50,217.63 L619.00,217.62 L619.50,217.65 L620.00,217.72 L620.50,217.80 L621.00,217.90 L621.50,217.98 L622.00,218.04 L622.50,218.06 L623.00,218.05 L623.50,217.99 L624.00,217.91 L624.50,217.82 L625.00,217.73 L625.50,217.66 L626.00,217.63 L626.50,217.64 L627.00,217.68 L627.50,217.76 L628.00,217.85 L628.50,217.94 L629.00,218.02 L629.50,218.06 L630.00,218.07 L630.50,218.04 L631.00,217.97 L631.50,217.88 L632.00,217.79 L632.50,217.71 L633.00,217.65 L633.50,217.64 L634.00,217.66 L634.50,217.72 L635.00,217.80 L635.50,217.90 L636.00,217.99 L636.50,218.05 L637.00,218.08 L637.50,218.07 L638.00,218.02 L638.50,217.95 L639.00,217.85 L639.50,217.76 L640.00,217.69 L640.50,217.65 L641.00,217.65 L641.50,217.69 L642.00,217.76 L642.50,217.85 L643.00,217.94 L643.50,218.02 L644.00,218.08 L644.50,218.09 L645.00,218.07 L645.50,218.00 L646.00,217.92 L646.50,217.83 L647.00,217.74 L647.50,217.68 L648.00,217.66 L648.50,217.67 L649.00,217.72 L649.50,217.80 L650.00,217.90 L650.50,217.99 L651.00,218.06 L651.50,218.10 L652.00,218.09 L652.50,218.05 L653.00,217.98 L653.50,217.89 L654.00,217.80 L654.50,217.72 L655.00,217.68 L655.50,217.67 L656.00,217.70 L656.50,217.76 L657.00,217.85 L657.50,217.94 L658.00,218.03 L658.50,218.09 L659.00,218.11 L659.50,218.09 L660.00,218.04 L660.50,217.96 L661.00,217.86 L661.50,217.78 L662.00,217.71 L662.50,217.68 L663.00,217.68 L663.50,217.73 L664.00,217.80 L664.50,217.90 L665.00,217.99 L665.50,218.06 L666.00,218.11 L666.50,218.12 L667.00,218.08 L667.50,218.02" stroke="#800080"/>
<path d="M86.60,220.50 L86.80,219.55 L87.00,218.60 L87.20,217.67 L87.40,216.76 L87.60,215.86 L87.80,214.97 L88.00,214.09 L88.20,213.23 L88.40,212.39 L88.60,211.56 L88.80,210.74 L89.00,209.94 L89.20,209.15 L89.40,208.38 L89.60,207.62 L89.80,206.85 L90.00,206.08 L90.20,205.33 L90.40,204.58 L90.60,203.85 L90.80,203.14 L91.00,202.46 L91.20,201.81 L91.40,201.20 L91.60,200.62 L91.80,200.09 L92.00,199.60 L92.20,199.12 L92.40,198.67 L92.60,198.23 L92.80,197.80 L93.00,197.39 L93.20,196.99 L93.40,196.61 L93.60,196.25 L93.80,195.90 L94.00,195.56 L94.20,195.24 L94.40,194.93 L94.60,194.63 L94.80,194.35 L95.00,194.08 L95.20,193.82 L95.40,193.56 L95.60,193.31 L95.80,193.06 L96.00,192.82 L96.20,192.59 L96.40,192.37 L96.60,192.16 L96.80,191.97 L97.00,191.79 L97.20,191.63 L97.40,191.49 L97.60,191.37 L97.80,191.26 L98.00,191.17 L98.20,191.07 L98.40,190.98 L98.60,190.89 L98.80,190.80 L99.00,190.72 L99.20,190.65 L99.40,190.58 L99.60,190.53 L99.80,190.48 L100.00,190.44 L100.20,190.42 L100.40,190.40 L100.50,190.40 L100.65,190.40 L100.80,190.40 L100.95,190.41 L101.10,190.42 L101.25,190.43 L101.40,190.44 L101.55,190.46 L101.70,190.48 L101.85,190.50 L102.00,190.53 L102.15,190.55 L102.30,190.58 L102.45,190.61 L102.60,190.65 L102.75,190.69 L102.90,190.73 L103.05,190.77 L103.20,190.82 L103.35,190.87 L103.50,190.92 L103.65,190.98 L103.80,191.04 L103.95,191.10 L104.10,191.17 L104.25,191.23 L104.40,191.31 L104.55,191.38 L104.70,191.46 L104.85,191.55 L105.00,191.64 L105.15,191.73 L105.30,191.82 L105.45,191.92 L105.60,192.03 L105.75,192.14 L105.90,192.25 L106.05,192.37 L106.20,192.49 L106.35,192.62 L106.50,192.76 L106.65,192.90 L106.80,193.04 L106.95,193.19 L107.10,193.35 L107.25,193.52 L107.40,193.69 L107.55,193.87 L107.70,194.05 L107.85,194.25 L108.00,194.45 L108.15,194.67 L108.30,194.89 L108.45,195.12 L108.60,195.37 L108.75,195.62 L108.90,195.89 L109.05,196.18 L109.20,196.47 L109.35,196.79 L109.50,197.12 L109.65,197.47 L109.80,197.84 L109.95,198.24 L110.10,198.66 L110.25,199.11 L110.40,199.59 L110.55,200.11 L110.70,200.67 L110.85,201.29 L111.00,201.96 L111.15,202.70 L111.30,203.53 L111.45,204.46 L111.60,205.53 L111.75,206.78 L111.90,208.27 L112.05,210.14 L112.20,212.61 L112.35,216.28 L112.50,223.45 L112.60,253.20 L112.75,225.80 L112.90,220.42 L113.05,217.30 L113.20,215.11 L113.35,213.42 L113.50,212.06 L113.65,210.91 L113.80,209.93 L113.95,209.07 L114.10,208.32 L114.25,207.64 L114.40,207.02 L114.55,206.47 L114.70,205.96 L114.85,205.49 L115.00,205.06 L115.15,204.66 L115.30,204.28 L115.45,203.93 L115.60,203.61 L115.75,203.30 L115.90,203.02 L116.05,202.75 L116.20,202.50 L116.35,202.26 L116.50,202.03 L116.65,201.82 L116.80,201.62 L116.95,201.43 L117.10,201.25 L117.25,201.08 L117.40,200.92 L117.55,200.76 L117.70,200.62 L117.85,200.48 L118.00,200.35 L118.15,200.23 L118.30,200.11 L118.45,200.00 L118.60,199.90 L118.75,199.80 L118.90,199.71 L119.05,199.63 L119.20,199.54 L119.35,199.47 L119.50,199.40 L119.65,199.33 L119.80,199.27 L119.95,199.21 L120.10,199.16 L120.25,199.11 L120.40,199.06 L120.55,199.02 L120.70,198.98 L120.85,198.95 L121.00,198.92 L121.15,198.89 L121.30,198.87 L121.45,198.85 L121.60,198.83 L121.75,198.82 L121.90,198.81 L122.05,198.80 L122.20,198.80 L122.35,198.80 L122.50,198.80 L122.65,198.81 L122.80,198.82 L122.95,198.83 L123.10,198.84 L123.25,198.86 L123.40,198.88 L123.55,198.90 L123.70,198.93 L123.85,198.95 L124.00,198.98 L124.15,199.02 L124.30,199.05 L124.45,199.09 L124.60,199.13 L124.75,199.18 L124.90,199.22 L125.05,199.27 L125.20,199.32 L125.35,199.38 L125.50,199.43 L125.65,199.49 L125.80,199.56 L125.95,199.62 L126.10,199.69 L126.25,199.76 L126.40,199.83 L126.55,199.90 L126.70,199.98 L126.85,200.06 L127.00,200.14 L127.15,200.23 L127.30,200.31 L127.45,200.40 L127.60,200.50 L127.75,200.59 L127.90,200.69 L128.05,200.79 L128.20,200.90 L128.35,201.00 L128.50,201.11 L128.65,201.23 L128.80,201.34 L128.95,201.46 L129.10,201.58 L129.25,201.71 L129.40,201.83 L129.55,201.96 L129.70,202.10 L129.85,202.24 L130.00,202.38 L130.15,202.52 L130.30,202.67 L130.45,202.82 L130.60,202.97 L130.75,203.13 L130.90,203.29 L131.05,203.46 L131.20,203.63 L131.35,203.80 L131.50,203.98 L131.65,204.17 L131.80,204.35 L131.95,204.55 L132.10,204.74 L132.25,204.94 L132.40,205.15 L132.55,205.36 L132.70,205.58 L132.85,205.81 L133.00,206.04 L133.15,206.27 L133.30,206.52 L133.45,206.77 L133.60,207.03 L133.75,207.29 L133.90,207.57 L134.05,207.85 L134.20,208.14 L134.35,208.44 L134.50,208.75 L134.65,209.07 L134.80,209.41 L134.95,209.75 L135.10,210.11 L135.25,210.49 L135.40,210.88 L135.55,211.28 L135.70,211.71 L135.85,212.15 L136.00,212.62 L136.15,213.12 L136.30,213.64 L136.45,214.19 L136.60,214.78 L136.75,215.41 L136.90,216.09 L137.05,216.82 L137.20,217.62 L137.35,218.50 L137.50,219.48 L137.65,220.58 L137.80,221.85 L137.95,223.33 L138.10,225.14 L138.25,227.46 L138.40,230.70 L138.55,236.20 L138.70,259.90 L138.85,234.16 L139.00,228.78 L139.15,225.67 L139.30,223.48 L139.45,221.80 L139.60,220.44 L139.75,219.30 L139.90,218.32 L140.05,217.46 L140.20,216.71 L140.35,216.03 L140.50,215.42 L140.65,214.87 L140.80,214.36 L140.95,213.89 L141.10,213.46 L141.25,213.06 L141.40,212.69 L141.55,212.35 L141.70,212.02 L141.85,211.72 L142.00,211.43 L142.15,211.16 L142.30,210.91 L142.45,210.67 L142.60,210.45 L142.75,210.23 L142.90,210.03 L143.05,209.84 L143.20,209.66 L143.35,209.49 L143.50,209.32 L143.65,209.17 L143.80,209.02 L143.95,208.88 L144.10,208.75 L144.25,208.63 L144.40,208.51 L144.55,208.40 L144.70,208.29 L144.85,208.19 L145.00,208.09 L145.15,208.00 L145.30,207.92 L145.45,207.84 L145.60,207.76 L145.75,207.69 L145.90,207.62 L146.05,207.56 L146.20,207.50 L146.35,207.44 L146.50,207.39 L146.65,207.34 L146.80,207.30 L146.95,207.26 L147.10,207.22 L147.25,207.18 L147.40,207.15 L147.55,207.12 L147.70,207.10 L147.85,207.08 L148.00,207.06 L148.15,207.04 L148.30,207.03 L148.45,207.02 L148.60,207.01 L148.75,207.00 L148.90,207.00 L149.05,207.00 L149.20,207.00 L149.35,207.01 L149.50,207.01 L149.65,207.02 L149.80,207.03 L149.95,207.05 L150.10,207.06 L150.25,207.08 L150.40,207.10 L150.55,207.13 L150.70,207.15 L150.85,207.18 L151.00,207.21 L151.15,207.24 L151.30,207.27 L151.45,207.31 L151.60,207.35 L151.75,207.39 L151.90,207.43 L152.05,207.47 L152.20,207.52 L152.35,207.57 L152.50,207.62 L152.65,207.67 L152.80,207.72 L152.95,207.78 L153.10,207.84 L153.25,207.90 L153.40,207.96 L153.55,208.02 L153.70,208.09 L153.85,208.16 L154.00,208.23 L154.15,208.30 L154.30,208.37 L154.45,208.45 L154.60,208.52 L154.75,208.60 L154.90,208.68 L155.05,208.77 L155.20,208.85 L155.35,208.94 L155.50,209.03 L155.65,209.12 L155.80,209.22 L155.95,209.31 L156.10,209.41 L156.25,209.51 L156.40,209.61 L156.55,209.72 L156.70,209.82 L156.85,209.93 L157.00,210.04 L157.15,210.15 L157.30,210.27 L157.45,210.39 L157.60,210.51 L157.75,210.63 L157.90,210.75 L158.05,210.88 L158.20,211.01 L158.35,211.14 L158.50,211.28 L158.65,211.41 L158.80,211.55 L158.95,211.70 L159.10,211.84 L159.25,211.99 L159.40,212.14 L159.55,212.29 L159.70,212.45 L159.85,212.61 L160.00,212.77 L160.15,212.94 L160.30,213.11 L160.45,213.28 L160.60,213.46 L160.75,213.64 L160.90,213.82 L161.05,214.01 L161.20,214.20 L161.35,214.40 L161.50,214.60 L161.65,214.80 L161.80,215.01 L161.95,215.22 L162.10,215.44 L162.25,215.66 L162.40,215.89 L162.55,216.13 L162.70,216.37 L162.85,216.61 L163.00,216.86 L163.15,217.12 L163.30,217.39 L163.45,217.66 L163.60,217.94 L163.75,218.23 L163.90,218.52 L164.05,218.83 L164.20,219.14 L164.35,219.47 L164.50,219.81 L164.65,220.15 L164.80,220.51 L164.95,220.89 L165.10,221.28 L165.25,221.68 L165.40,222.10 L165.55,222.55 L165.70,223.01 L165.85,223.49 L166.00,224.01 L166.15,224.55 L166.30,225.12 L166.45,225.73 L166.60,226.38 L166.75,227.08 L166.90,227.85 L167.05,228.68 L167.20,229.59 L167.35,230.62 L167.50,231.77 L167.65,233.11 L167.80,234.70 L167.95,236.65 L168.10,239.21 L168.25,242.97 L168.40,250.22 L168.50,272.60 L168.65,246.79 L168.80,241.41 L168.95,238.28 L169.10,236.08 L169.25,234.39 L169.40,233.02 L169.55,231.87 L169.70,230.89 L169.85,230.02 L170.00,229.26 L170.15,228.58 L170.30,227.96 L170.45,227.40 L170.60,226.88 L170.75,226.41 L170.90,225.97 L171.05,225.57 L171.20,225.19 L171.35,224.84 L171.50,224.51 L171.65,224.20 L171.80,223.91 L171.95,223.64 L172.10,223.38 L172.25,223.14 L172.40,222.91 L172.55,222.69 L172.70,222.49 L172.85,222.29 L173.00,222.11 L173.15,221.94 L173.30,221.77 L173.45,221.62 L173.60,221.47 L173.75,221.33 L173.90,221.20 L174.05,221.07 L174.20,220.95 L174.35,220.84 L174.50,220.73 L174.65,220.63 L174.80,220.54 L174.95,220.45 L175.10,220.37 L175.25,220.29 L175.40,220.22 L175.55,220.15 L175.70,220.08 L175.85,220.02 L176.00,219.97 L176.15,219.92 L176.30,219.87 L176.45,219.83 L176.60,219.79 L176.75,219.76 L176.90,219.72 L177.05,219.70 L177.20,219.67 L177.35,219.65 L177.50,219.64 L177.65,219.62 L177.80,219.61 L177.95,219.60 L178.10,219.60 L178.25,219.60 L178.40,219.60 L178.55,219.61 L178.70,219.62 L178.85,219.63 L179.00,219.64 L179.15,219.66 L179.30,219.68 L179.45,219.71 L179.60,219.73 L179.75,219.76 L179.90,219.79 L180.05,219.83 L180.20,219.87 L180.35,219.91 L180.50,219.95 L180.65,220.00 L180.80,220.05 L180.95,220.10 L181.10,220.15 L181.25,220.21 L181.40,220.27 L181.55,220.33 L181.70,220.40 L181.85,220.47 L182.00,220.54 L182.15,220.61 L182.30,220.69 L182.45,220.77 L182.60,220.85 L182.75,220.93 L182.90,221.02 L183.05,221.11 L183.20,221.21 L183.35,221.30 L183.50,221.40 L183.65,221.51 L183.80,221.61 L183.95,221.72 L184.10,221.84 L184.25,221.95 L184.40,222.07 L184.55,222.19 L184.70,222.32 L184.85,222.45 L185.00,222.58 L185.15,222.72 L185.30,222.86 L185.45,223.00 L185.60,223.15 L185.75,223.30 L185.90,223.45 L186.05,223.61 L186.20,223.78 L186.35,223.94 L186.50,224.12 L186.65,224.29 L186.80,224.47 L186.95,224.66 L187.10,224.85 L187.25,225.05 L187.40,225.25 L187.55,225.46 L187.70,225.67 L187.85,225.89 L188.00,226.12 L188.15,226.35 L188.30,226.59 L188.45,226.84 L188.60,227.09 L188.75,227.36 L188.90,227.63 L189.05,227.91 L189.20,228.20 L189.35,228.50 L189.50,228.81 L189.65,229.13 L189.80,229.47 L189.95,229.81 L190.10,230.18 L190.25,230.55 L190.40,230.95 L190.55,231.36 L190.70,231.79 L190.85,232.25 L191.00,232.72 L191.15,233.23 L191.30,233.77 L191.45,234.34 L191.60,234.95 L191.75,235.60 L191.90,236.31 L192.05,237.08 L192.20,237.92 L192.35,238.86 L192.50,239.91 L192.65,241.11 L192.80,242.51 L192.95,244.19 L193.10,246.30 L193.25,249.15 L193.40,253.59 L193.55,264.53 L193.60,279.90 L193.75,254.87 L193.90,249.48 L194.05,246.36 L194.20,244.16 L194.35,242.46 L194.50,241.09 L194.65,239.94 L194.80,238.95 L194.95,238.08 L195.10,237.31 L195.25,236.63 L195.40,236.00 L195.55,235.44 L195.70,234.92 L195.85,234.44 L196.00,233.99 L196.15,233.58 L196.30,233.20 L196.45,232.84 L196.60,232.50 L196.75,232.18 L196.90,231.88 L197.05,231.60 L197.20,231.33 L197.35,231.08 L197.50,230.84 L197.65,230.61 L197.80,230.39 L197.95,230.19 L198.10,229.99 L198.25,229.80 L198.40,229.62 L198.55,229.45 L198.70,229.29 L198.85,229.14 L199.00,228.99 L199.15,228.85 L199.30,228.71 L199.45,228.58 L199.60,228.46 L199.75,228.34 L199.90,228.23 L200.05,228.12 L200.20,228.02 L200.35,227.92 L200.50,227.83 L200.65,227.74 L200.80,227.65 L200.95,227.57 L201.10,227.49 L201.25,227.42 L201.40,227.35 L201.55,227.28 L201.70,227.22 L201.85,227.16 L202.00,227.10 L202.15,227.04 L202.30,226.99 L202.45,226.94 L202.60,226.90 L202.75,226.86 L202.90,226.82 L203.05,226.78 L203.20,226.74 L203.35,226.71 L203.50,226.68 L203.65,226.66 L203.80,226.63 L203.95,226.61 L204.10,226.59 L204.25,226.57 L204.40,226.55 L204.55,226.54 L204.70,226.53 L204.85,226.52 L205.00,226.51 L205.15,226.51 L205.30,226.50 L205.45,226.50 L205.60,226.50 L205.75,226.50 L205.90,226.51 L206.05,226.51 L206.20,226.52 L206.35,226.53 L206.50,226.54 L206.65,226.55 L206.80,226.57 L206.95,226.59 L207.10,226.60 L207.25,226.62 L207.40,226.65 L207.55,226.67 L207.70,226.69 L207.85,226.72 L208.00,226.75 L208.15,226.78 L208.30,226.81 L208.45,226.84 L208.60,226.88 L208.75,226.91 L208.90,226.95 L209.05,226.99 L209.20,227.03 L209.35,227.07 L209.50,227.12 L209.65,227.16 L209.80,227.21 L209.95,227.26 L210.10,227.31 L210.25,227.36 L210.40,227.42 L210.55,227.47 L210.70,227.53 L210.85,227.58 L211.00,227.64 L211.15,227.71 L211.30,227.77 L211.45,227.83 L211.60,227.90 L211.75,227.96 L211.90,228.03 L212.05,228.10 L212.20,228.18 L212.35,228.25 L212.50,228.32 L212.65,228.40 L212.80,228.48 L212.95,228.56 L213.10,228.64 L213.25,228.72 L213.40,228.81 L213.55,228.89 L213.70,228.98 L213.85,229.07 L214.00,229.16 L214.15,229.26 L214.30,229.35 L214.45,229.45 L214.60,229.55 L214.75,229.65 L214.90,229.75 L215.05,229.85 L215.20,229.96 L215.35,230.07 L215.50,230.17 L215.65,230.29 L215.80,230.40 L215.95,230.51 L216.10,230.63 L216.25,230.75 L216.40,230.87 L216.55,231.00 L216.70,231.12 L216.85,231.25 L217.00,231.38 L217.15,231.51 L217.30,231.65 L217.45,231.79 L217.60,231.92 L217.75,232.07 L217.90,232.21 L218.05,232.36 L218.20,232.51 L218.35,232.66 L218.50,232.82 L218.65,232.98 L218.80,233.14 L218.95,233.30 L219.10,233.47 L219.25,233.64 L219.40,233.81 L219.55,233.99 L219.70,234.17 L219.85,234.36 L220.00,234.54 L220.15,234.74 L220.30,234.93 L220.45,235.13 L220.60,235.34 L220.75,235.55 L220.90,235.76 L221.05,235.98 L221.20,236.20 L221.35,236.43 L221.50,236.67 L221.65,236.91 L221.80,237.15 L221.95,237.40 L222.10,237.66 L222.25,237.93 L222.40,238.20 L222.55,238.49 L222.70,238.78 L222.85,239.08 L223.00,239.38 L223.15,239.70 L223.30,240.03 L223.45,240.37 L223.60,240.73 L223.75,241.09 L223.90,241.48 L224.05,241.87 L224.20,242.29 L224.35,242.72 L224.50,243.17 L224.65,243.65 L224.80,244.16 L224.95,244.69 L225.10,245.25 L225.25,245.85 L225.40,246.50 L225.55,247.19 L225.70,247.94 L225.85,248.76 L226.00,249.67 L226.15,250.68 L226.30,251.83 L226.45,253.16 L226.60,254.73 L226.75,256.68 L226.90,259.23 L227.05,262.97 L227.20,270.22 L227.30,302.90 L227.45,268.88 L227.60,263.50 L227.75,260.38 L227.90,258.19 L228.05,256.50 L228.20,255.13 L228.35,253.99 L228.50,253.01 L228.65,252.16 L228.80,251.40 L228.95,250.73 L229.10,250.12 L229.25,249.57 L229.40,249.07 L229.55,248.61 L229.70,248.18 L229.85,247.79 L230.00,247.42 L230.15,247.08 L230.30,246.77 L230.45,246.48 L230.60,246.20 L230.75,245.95 L230.90,245.71 L231.05,245.48 L231.20,245.27 L231.35,245.08 L231.50,244.89 L231.65,244.72 L231.80,244.56 L231.95,244.40 L232.10,244.26 L232.25,244.13 L232.40,244.01 L232.55,243.89 L232.70,243.79 L232.85,243.69 L233.00,243.60 L233.15,243.52 L233.30,243.44 L233.45,243.37 L233.60,243.31 L233.75,243.25 L233.90,243.20 L234.05,243.16 L234.20,243.12 L234.35,243.08 L234.50,243.06 L234.65,243.03 L234.80,243.02 L234.95,243.01 L235.10,243.00 L235.25,243.00 L235.40,243.00 L235.55,243.01 L235.70,243.03 L235.85,243.05 L236.00,243.07 L236.15,243.10 L236.30,243.13 L236.45,243.17 L236.60,243.21 L236.75,243.26 L236.90,243.31 L237.05,243.37 L237.20,243.43 L237.35,243.49 L237.50,243.56 L237.65,243.64 L237.80,243.72 L237.95,243.80 L238.10,243.89 L238.25,243.99 L238.40,244.09 L238.55,244.19 L238.70,244.30 L238.85,244.41 L239.00,244.53 L239.15,244.65 L239.30,244.78 L239.45,244.92 L239.60,245.06 L239.75,245.20 L239.90,245.35 L240.05,245.51 L240.20,245.67 L240.35,245.84 L240.50,246.02 L240.65,246.20 L240.80,246.39 L240.95,246.58 L241.10,246.79 L241.25,247.00 L241.40,247.21 L241.55,247.44 L241.70,247.67 L241.85,247.92 L242.00,248.17 L242.15,248.43 L242.30,248.70 L242.45,248.99 L242.60,249.28 L242.75,249.59 L242.90,249.91 L243.05,250.24 L243.20,250.59 L243.35,250.96 L243.50,251.34 L243.65,251.74 L243.80,252.16 L243.95,252.61 L244.10,253.08 L244.25,253.57 L244.40,254.10 L244.55,254.67 L244.70,255.27 L244.85,255.92 L245.00,256.62 L245.15,257.39 L245.30,258.23 L245.45,259.16 L245.60,260.21 L245.75,261.41 L245.90,262.80 L246.05,264.48 L246.20,266.59 L246.35,269.44 L246.50,273.89 L246.65,284.82 L246.70,310.70 L246.85,273.60 L247.00,268.20 L247.15,265.04 L247.30,262.82 L247.45,261.10 L247.60,259.70 L247.75,258.52 L247.90,257.51 L248.05,256.62 L248.20,255.83 L248.35,255.11 L248.50,254.47 L248.65,253.87 L248.80,253.33 L248.95,252.83 L249.10,252.36 L249.25,251.92 L249.40,251.51 L249.55,251.12 L249.70,250.76 L249.85,250.42 L250.00,250.09 L250.15,249.78 L250.30,249.49 L250.45,249.21 L250.60,248.95 L250.75,248.69 L250.90,248.45 L251.05,248.22 L251.20,248.00 L251.35,247.79 L251.50,247.58 L251.65,247.39 L251.80,247.20 L251.95,247.02 L252.10,246.84 L252.25,246.68 L252.40,246.52 L252.55,246.36 L252.70,246.21 L252.85,246.07 L253.00,245.93 L253.15,245.80 L253.30,245.67 L253.45,245.54 L253.60,245.42 L253.75,245.31 L253.90,245.19 L254.05,245.09 L254.20,244.98 L254.35,244.88 L254.50,244.79 L254.65,244.69 L254.80,244.60 L254.95,244.52 L255.10,244.43 L255.25,244.35 L255.40,244.27 L255.55,244.20 L255.70,244.13 L255.85,244.06 L256.00,243.99 L256.15,243.93 L256.30,243.87 L256.45,243.81 L256.60,243.75 L256.75,243.70 L256.90,243.65 L257.05,243.60 L257.20,243.55 L257.35,243.51 L257.50,243.46 L257.65,243.42 L257.80,243.38 L257.95,243.35 L258.10,243.31 L258.25,243.28 L258.40,243.25 L258.55,243.22 L258.70,243.19 L258.85,243.17 L259.00,243.15 L259.15,243.12 L259.30,243.10 L259.45,243.09 L259.60,243.07 L259.75,243.06 L259.90,243.04 L260.05,243.03 L260.20,243.02 L260.35,243.01 L260.50,243.01 L260.65,243.00 L260.80,243.00 L260.95,243.00 L261.00,243.00 L261.25,243.04 L261.50,243.08 L261.75,243.12 L262.00,243.17 L262.25,243.23 L262.50,243.28 L262.75,243.34 L263.00,243.41 L263.25,243.47 L263.50,243.54 L263.75,243.61 L264.00,243.69 L264.25,243.77 L264.50,243.85 L264.75,243.93 L265.00,244.02 L265.25,244.11 L265.50,244.20 L265.75,244.29 L266.00,244.39 L266.25,244.48 L266.50,244.58 L266.75,244.68 L267.00,244.78 L267.25,244.88 L267.50,244.99 L267.75,245.09 L268.00,245.20 L268.25,245.31 L268.50,245.43 L268.75,245.55 L269.00,245.68 L269.25,245.81 L269.50,245.96 L269.75,246.10 L270.00,246.25 L270.25,246.41 L270.50,246.57 L270.75,246.73 L271.00,246.90 L271.25,247.07 L271.50,247.24 L271.75,247.42 L272.00,247.60 L272.25,247.78 L272.50,247.97 L272.75,248.15 L273.00,248.34 L273.25,248.53 L273.50,248.72 L273.75,248.91 L274.00,249.10 L274.25,249.29 L274.50,249.48 L274.75,249.66 L275.00,249.85 L275.25,250.04 L275.50,250.22 L275.75,250.41 L276.00,250.59 L276.25,250.78 L276.50,250.97 L276.75,251.15 L277.00,251.34 L277.25,251.53 L277.50,251.72 L277.75,251.91 L278.00,252.10 L278.25,252.30 L278.50,252.49 L278.75,252.69 L279.00,252.89 L279.25,253.09 L279.50,253.29 L279.75,253.50 L280.00,253.71 L280.25,253.92 L280.50,254.14 L280.75,254.35 L281.00,254.58 L281.25,254.80 L281.50,255.03 L281.75,255.26 L282.00,255.50 L282.25,255.74 L282.50,255.98 L282.75,256.23 L283.00,256.48 L283.25,256.74 L283.50,257.00 L283.75,257.27 L284.00,257.56 L284.25,257.86 L284.50,258.18 L284.75,258.50 L285.00,258.84 L285.25,259.18 L285.50,259.52 L285.75,259.87 L286.00,260.22 L286.25,260.57 L286.50,260.92 L286.75,261.26 L287.00,261.60 L287.25,261.93 L287.50,262.27 L287.75,262.60 L288.00,262.94 L288.25,263.28 L288.50,263.61 L288.75,263.96 L289.00,264.30 L289.25,264.65 L289.50,265.00 L289.75,265.37 L290.00,265.77 L290.25,266.17 L290.50,266.56 L290.75,266.94 L291.00,267.27 L291.25,267.55 L291.50,267.83 L291.75,268.10 L292.00,268.36 L292.25,268.57 L292.50,268.73 L292.75,268.80 L293.00,268.79 L293.25,268.75 L293.50,268.70 L293.75,268.62 L294.00,268.53 L294.25,268.44 L294.50,268.34 L294.75,268.23 L295.00,268.10 L295.25,267.94 L295.50,267.76 L295.75,267.58 L296.00,267.39 L296.25,267.20 L296.50,267.03 L296.75,266.86 L297.00,266.68 L297.25,266.51 L297.50,266.33 L297.75,266.15 L298.00,265.98 L298.25,265.80 L298.50,265.63 L298.75,265.47 L299.00,265.30 L299.25,265.13 L299.50,264.96 L299.75,264.78 L300.00,264.61 L300.25,264.43 L300.50,264.25 L300.75,264.08 L301.00,263.90 L301.25,263.72 L301.50,263.55 L301.75,263.37 L302.00,263.20 L302.25,263.03 L302.50,262.86 L302.75,262.70 L303.00,262.53 L303.25,262.38 L303.50,262.22 L303.75,262.07 L304.00,261.93 L304.25,261.79 L304.50,261.66 L304.75,261.53 L305.00,261.41 L305.25,261.30 L305.50,261.19 L305.75,261.09 L306.00,261.00 L306.25,260.91 L306.50,260.83 L306.75,260.74 L307.00,260.65 L307.25,260.57 L307.50,260.48 L307.75,260.40 L308.00,260.31 L308.25,260.23 L308.50,260.15 L308.75,260.07 L309.00,259.99 L309.25,259.92 L309.50,259.84 L309.75,259.77 L310.00,259.70 L310.25,259.64 L310.50,259.58 L310.75,259.52 L311.00,259.46 L311.25,259.41 L311.50,259.36 L311.75,259.31 L312.00,259.27 L312.25,259.23 L312.50,259.20 L312.75,259.17 L313.00,259.14 L313.25,259.12 L313.50,259.11 L313.75,259.10 L314.00,259.10 L314.25,259.10 L314.50,259.11 L314.75,259.12 L315.00,259.13 L315.25,259.14 L315.50,259.16 L315.75,259.18 L316.00,259.20 L316.25,259.23 L316.50,259.26 L316.75,259.29 L317.00,259.32 L317.25,259.36 L317.50,259.40 L317.75,259.44 L318.00,259.48 L318.25,259.53 L318.50,259.57 L318.75,259.62 L319.00,259.67 L319.25,259.72 L319.50,259.77 L319.75,259.83 L320.00,259.88 L320.25,259.94 L320.50,260.00 L320.75,260.05 L321.00,260.11 L321.25,260.17 L321.50,260.23 L321.75,260.29 L322.00,260.35 L322.25,260.41 L322.50,260.48 L322.75,260.54 L323.00,260.60 L323.25,260.66 L323.50,260.74 L323.75,260.81 L324.00,260.90 L324.25,260.98 L324.50,261.08 L324.75,261.17 L325.00,261.28 L325.25,261.38 L325.50,261.49 L325.75,261.61 L326.00,261.73 L326.25,261.85 L326.50,261.97 L326.75,262.10 L327.00,262.22 L327.25,262.36 L327.50,262.49 L327.75,262.62 L328.00,262.76 L328.25,262.89 L328.50,263.03 L328.75,263.16 L329.00,263.30 L329.25,263.44 L329.50,263.57 L329.75,263.71 L330.00,263.84 L330.25,263.97 L330.50,264.10 L330.75,264.23 L331.00,264.36 L331.25,264.48 L331.50,264.61 L331.75,264.72 L332.00,264.84 L332.25,264.96 L332.50,265.08 L332.75,265.20 L333.00,265.33 L333.25,265.45 L333.50,265.57 L333.75,265.70 L334.00,265.82 L334.25,265.95 L334.50,266.08 L334.75,266.20 L335.00,266.33 L335.25,266.45 L335.50,266.58 L335.75,266.70 L336.00,266.83 L336.25,266.95 L336.50,267.08 L336.75,267.20 L337.00,267.32 L337.25,267.44 L337.50,267.56 L337.75,267.68 L338.00,267.80 L338.25,267.91 L338.50,268.03 L338.75,268.14 L339.00,268.25 L339.25,268.36 L339.50,268.47 L339.75,268.57 L340.00,268.68 L340.25,268.78 L340.50,268.88 L340.75,268.97 L341.00,269.06 L341.25,269.15 L341.50,269.25 L341.75,269.34 L342.00,269.43 L342.25,269.53 L342.50,269.62 L342.75,269.72 L343.00,269.81 L343.25,269.91 L343.50,270.00 L343.75,270.10 L344.00,270.20 L344.25,270.29 L344.50,270.38 L344.75,270.48 L345.00,270.57 L345.25,270.66 L345.50,270.75 L345.75,270.84 L346.00,270.93 L346.25,271.02 L346.50,271.10 L346.75,271.18 L347.00,271.26 L347.25,271.34 L347.50,271.42 L347.75,271.49 L348.00,271.56 L348.25,271.63 L348.50,271.69 L348.75,271.75 L349.00,271.81 L349.25,271.87 L349.50,271.92 L349.75,271.97 L350.00,272.01 L350.25,272.05 L350.50,272.09 L350.75,272.12 L351.00,272.15 L351.25,272.17 L351.50,272.19 L351.75,272.20 L352.00,272.21 L352.25,272.23 L352.50,272.24 L352.75,272.25 L353.00,272.26 L353.25,272.27 L353.50,272.28 L353.75,272.29 L354.00,272.30 L354.25,272.31 L354.50,272.32 L354.75,272.32 L355.00,272.33 L355.25,272.34 L355.50,272.35 L355.75,272.35 L356.00,272.36 L356.25,272.37 L356.50,272.37 L356.75,272.38 L357.00,272.38 L357.25,272.39 L357.50,272.39 L357.75,272.39 L358.00,272.40 L358.25,272.40 L358.50,272.40 L358.75,272.40 L359.00,272.40 L359.25,272.40 L359.50,272.40 L359.75,272.40 L360.00,272.40 L360.25,272.39 L360.50,272.39 L360.75,272.39 L361.00,272.38 L361.25,272.38 L361.50,272.38 L361.75,272.37 L362.00,272.37 L362.25,272.36 L362.50,272.36 L362.75,272.35 L363.00,272.35 L363.25,272.35 L363.50,272.34 L363.75,272.34 L364.00,272.33 L364.25,272.33 L364.50,272.32 L364.75,272.32 L365.00,272.32 L365.25,272.31 L365.50,272.31 L365.75,272.31 L366.00,272.30 L366.25,272.30 L366.50,272.30 L366.75,272.30 L367.00,272.30 L367.25,272.30 L367.50,272.31 L367.75,272.31 L368.00,272.32 L368.25,272.34 L368.50,272.35 L368.75,272.37 L369.00,272.39 L369.25,272.41 L369.50,272.44 L369.75,272.47 L370.00,272.49 L370.25,272.53 L370.50,272.56 L370.75,272.60 L371.00,272.63 L371.25,272.67 L371.50,272.71 L371.75,272.76 L372.00,272.80 L372.25,272.85 L372.50,272.89 L372.75,272.94 L373.00,272.99 L373.25,273.04 L373.50,273.09 L373.75,273.15 L374.00,273.20 L374.25,273.26 L374.50,273.31 L374.75,273.37 L375.00,273.43 L375.25,273.48 L375.50,273.54 L375.75,273.60 L376.00,273.66 L376.25,273.72 L376.50,273.78 L376.75,273.84 L377.00,273.90 L377.25,273.96 L377.50,274.02 L377.75,274.08 L378.00,274.14 L378.25,274.19 L378.50,274.25 L378.75,274.31 L379.00,274.37 L379.25,274.43 L379.50,274.50 L379.75,274.57 L380.00,274.64 L380.25,274.71 L380.50,274.79 L380.75,274.87 L381.00,274.95 L381.25,275.03 L381.50,275.11 L381.75,275.20 L382.00,275.29 L382.25,275.38 L382.50,275.47 L382.75,275.56 L383.00,275.66 L383.25,275.75 L383.50,275.85 L383.75,275.94 L384.00,276.04 L384.25,276.14 L384.50,276.24 L384.75,276.34 L385.00,276.44 L385.25,276.54 L385.50,276.64 L385.75,276.74 L386.00,276.84 L386.25,276.94 L386.50,277.04 L386.75,277.14 L387.00,277.24 L387.25,277.34 L387.50,277.44 L387.75,277.54 L388.00,277.64 L388.25,277.73 L388.50,277.83 L388.75,277.92 L389.00,278.01 L389.25,278.10 L389.50,278.19 L389.75,278.28 L390.00,278.37 L390.25,278.45 L390.50,278.53 L390.75,278.61 L391.00,278.70 L391.25,278.78 L391.50,278.86 L391.75,278.95 L392.00,279.03 L392.25,279.11 L392.50,279.20 L392.75,279.28 L393.00,279.37 L393.25,279.45 L393.50,279.53 L393.75,279.62 L394.00,279.70 L394.25,279.78 L394.50,279.86 L394.75,279.94 L395.00,280.02 L395.25,280.10 L395.50,280.18 L395.75,280.26 L396.00,280.34 L396.25,280.41 L396.50,280.49 L396.75,280.56 L397.00,280.64 L397.25,280.71 L397.50,280.78 L397.75,280.85 L398.00,280.92 L398.25,280.98 L398.50,281.05 L398.75,281.11 L399.00,281.17 L399.25,281.23 L399.50,281.29 L399.75,281.35 L400.00,281.40 L400.25,281.45 L400.50,281.50 L400.75,281.56 L401.00,281.60 L401.25,281.65 L401.50,281.70 L401.75,281.75 L402.00,281.80 L402.25,281.84 L402.50,281.89 L402.75,281.93 L403.00,281.98 L403.25,282.02 L403.50,282.06 L403.75,282.10 L404.00,282.14 L404.25,282.18 L404.50,282.22 L404.75,282.26 L405.00,282.30 L405.25,282.34 L405.50,282.38 L405.75,282.42 L406.00,282.46 L406.25,282.49 L406.50,282.53 L406.75,282.57 L407.00,282.60 L407.25,282.64 L407.50,282.67 L407.75,282.71 L408.00,282.74 L408.25,282.78 L408.50,282.81 L408.75,282.85 L409.00,282.88 L409.25,282.92 L409.50,282.95 L409.75,282.99 L410.00,283.02 L410.25,283.06 L410.50,283.09 L410.75,283.13 L411.00,283.16 L411.25,283.20 L411.50,283.24 L411.75,283.27 L412.00,283.31 L412.25,283.34 L412.50,283.38 L412.75,283.42 L413.00,283.45 L413.25,283.49 L413.50,283.53 L413.75,283.57 L414.00,283.61 L414.25,283.65 L414.50,283.69 L414.75,283.73 L415.00,283.77 L415.25,283.81 L415.50,283.85 L415.75,283.89 L416.00,283.93 L416.25,283.97 L416.50,284.02 L416.75,284.06 L417.00,284.10 L417.25,284.14 L417.50,284.18 L417.75,284.22 L418.00,284.26 L418.25,284.30 L418.50,284.34 L418.75,284.38 L419.00,284.43 L419.25,284.47 L419.50,284.51 L419.75,284.55 L420.00,284.59 L420.25,284.63 L420.50,284.67 L420.75,284.71 L421.00,284.75 L421.25,284.80 L421.50,284.84 L421.75,284.88 L422.00,284.92 L422.25,284.96 L422.50,285.00 L422.75,285.05 L423.00,285.09 L423.25,285.13 L423.50,285.17 L423.75,285.21 L424.00,285.26 L424.25,285.30 L424.50,285.34 L424.75,285.39 L425.00,285.43 L425.25,285.47 L425.50,285.52 L425.75,285.56 L426.00,285.60 L426.25,285.65 L426.50,285.69 L426.75,285.74 L427.00,285.78 L427.25,285.83 L427.50,285.87 L427.75,285.92 L428.00,285.96 L428.25,286.01 L428.50,286.06 L428.75,286.10 L429.00,286.15 L429.25,286.20 L429.50,286.24 L429.75,286.29 L430.00,286.34 L430.25,286.39 L430.50,286.44 L430.75,286.48 L431.00,286.53 L431.25,286.58 L431.50,286.63 L431.75,286.68 L432.00,286.74 L432.25,286.79 L432.50,286.84 L432.75,286.89 L433.00,286.94 L433.25,287.00 L433.50,287.05 L433.75,287.10 L434.00,287.16 L434.25,287.21 L434.50,287.27 L434.75,287.33 L435.00,287.39 L435.25,287.44 L435.50,287.50 L435.75,287.56 L436.00,287.62 L436.25,287.68 L436.50,287.74 L436.75,287.80 L437.00,287.87 L437.25,287.93 L437.50,287.99 L437.75,288.05 L438.00,288.12 L438.25,288.18 L438.50,288.25 L438.75,288.31 L439.00,288.38 L439.25,288.44 L439.50,288.51 L439.75,288.57 L440.00,288.64 L440.25,288.70 L440.50,288.77 L440.75,288.84 L441.00,288.90 L441.25,288.97 L441.50,289.04 L441.75,289.11 L442.00,289.17 L442.25,289.24 L442.50,289.31 L442.75,289.38 L443.00,289.45 L443.25,289.51 L443.50,289.58 L443.75,289.65 L444.00,289.72 L444.25,289.79 L444.50,289.85 L444.75,289.92 L445.00,289.99 L445.25,290.06 L445.50,290.12 L445.75,290.19 L446.00,290.26 L446.25,290.33 L446.50,290.39 L446.75,290.46 L447.00,290.53 L447.25,290.59 L447.50,290.66 L447.75,290.72 L448.00,290.79 L448.25,290.85 L448.50,290.92 L448.75,290.98 L449.00,291.05 L449.25,291.11 L449.50,291.18 L449.75,291.24 L450.00,291.30 L450.25,291.36 L450.50,291.42 L450.75,291.49 L451.00,291.55 L451.25,291.61 L451.50,291.67 L451.75,291.73 L452.00,291.79 L452.25,291.86 L452.50,291.92 L452.75,291.98 L453.00,292.04 L453.25,292.10 L453.50,292.16 L453.75,292.23 L454.00,292.29 L454.25,292.35 L454.50,292.41 L454.75,292.47 L455.00,292.53 L455.25,292.59 L455.50,292.65 L455.75,292.71 L456.00,292.77 L456.25,292.83 L456.50,292.89 L456.75,292.95 L457.00,293.01 L457.25,293.07 L457.50,293.13 L457.75,293.19 L458.00,293.24 L458.25,293.30 L458.50,293.36 L458.75,293.42 L459.00,293.47 L459.25,293.53 L459.50,293.59 L459.75,293.64 L460.00,293.70 L460.25,293.76 L460.50,293.81 L460.75,293.87 L461.00,293.92 L461.25,293.98 L461.50,294.03 L461.75,294.08 L462.00,294.14 L462.25,294.19 L462.50,294.24 L462.75,294.30 L463.00,294.35 L463.25,294.40 L463.50,294.45 L463.75,294.51 L464.00,294.56 L464.25,294.61 L464.50,294.66 L464.75,294.71 L465.00,294.77 L465.25,294.82 L465.50,294.87 L465.75,294.92 L466.00,294.97 L466.25,295.02 L466.50,295.07 L466.75,295.12 L467.00,295.17 L467.25,295.22 L467.50,295.27 L467.75,295.32 L468.00,295.37 L468.25,295.42 L468.50,295.48 L468.75,295.53 L469.00,295.58 L469.25,295.63 L469.50,295.68 L469.75,295.73 L470.00,295.78 L470.25,295.83 L470.50,295.88 L470.75,295.93 L471.00,295.98 L471.25,296.03 L471.50,296.08 L471.75,296.13 L472.00,296.18 L472.25,296.24 L472.50,296.29 L472.75,296.34 L473.00,296.39 L473.25,296.44 L473.50,296.50 L473.75,296.55 L474.00,296.60 L474.25,296.65 L474.50,296.71 L474.75,296.76 L475.00,296.81 L475.25,296.86 L475.50,296.92 L475.75,296.97 L476.00,297.02 L476.25,297.07 L476.50,297.13 L476.75,297.18 L477.00,297.23 L477.25,297.29 L477.50,297.34 L477.75,297.39 L478.00,297.44 L478.25,297.50 L478.50,297.55 L478.75,297.60 L479.00,297.66 L479.25,297.71 L479.50,297.76 L479.75,297.82 L480.00,297.87 L480.25,297.92 L480.50,297.98 L480.75,298.03 L481.00,298.08 L481.25,298.14 L481.50,298.19 L481.75,298.24 L482.00,298.30 L482.25,298.35 L482.50,298.40 L482.75,298.46 L483.00,298.51 L483.25,298.56 L483.50,298.62 L483.75,298.67 L484.00,298.72 L484.25,298.78 L484.50,298.83 L484.75,298.88 L485.00,298.94 L485.25,298.99 L485.50,299.04 L485.75,299.10 L486.00,299.15 L486.25,299.20 L486.50,299.26 L486.75,299.31 L487.00,299.37 L487.25,299.42 L487.50,299.47 L487.75,299.53 L488.00,299.58 L488.25,299.63 L488.50,299.69 L488.75,299.74 L489.00,299.80 L489.25,299.85 L489.50,299.90 L489.75,299.96 L490.00,300.01 L490.25,300.06 L490.50,300.12 L490.75,300.17 L491.00,300.23 L491.25,300.28 L491.50,300.33 L491.75,300.39 L492.00,300.44 L492.25,300.50 L492.50,300.55 L492.75,300.60 L493.00,300.66 L493.25,300.71 L493.50,300.77 L493.75,300.82 L494.00,300.87 L494.25,300.93 L494.50,300.98 L494.75,301.04 L495.00,301.09 L495.25,301.14 L495.50,301.20 L495.75,301.25 L496.00,301.31 L496.25,301.36 L496.50,301.41 L496.75,301.47 L497.00,301.52 L497.25,301.58 L497.50,301.63 L497.75,301.69 L498.00,301.74 L498.25,301.79 L498.50,301.85 L498.75,301.90 L499.00,301.96 L499.25,302.01 L499.50,302.06 L499.75,302.12 L500.00,302.17 L500.25,302.23 L500.50,302.28 L500.75,302.34 L501.00,302.39 L501.25,302.44 L501.50,302.50 L501.75,302.55 L502.00,302.61 L502.25,302.66 L502.50,302.71 L502.75,302.77 L503.00,302.82 L503.25,302.88 L503.50,302.93 L503.75,302.99 L504.00,303.04 L504.25,303.09 L504.50,303.15 L504.75,303.20 L505.00,303.26 L505.25,303.31 L505.50,303.36 L505.75,303.42 L506.00,303.47 L506.25,303.53 L506.50,303.58 L506.75,303.64 L507.00,303.69 L507.25,303.74 L507.50,303.80 L507.75,303.85 L508.00,303.91 L508.25,303.96 L508.50,304.02 L508.75,304.07 L509.00,304.12 L509.25,304.18 L509.50,304.23 L509.75,304.29 L510.00,304.34 L510.25,304.39 L510.50,304.45 L510.75,304.50 L511.00,304.56 L511.25,304.61 L511.50,304.67 L511.75,304.72 L512.00,304.77 L512.25,304.83 L512.50,304.88 L512.75,304.94 L513.00,304.99 L513.25,305.04 L513.50,305.10 L513.75,305.15 L514.00,305.21 L514.25,305.26 L514.50,305.31 L514.75,305.37 L515.00,305.42 L515.25,305.48 L515.50,305.53 L515.75,305.58 L516.00,305.64 L516.25,305.69 L516.50,305.75 L516.75,305.80 L517.00,305.85 L517.25,305.91 L517.50,305.96 L517.75,306.02 L518.00,306.07 L518.25,306.12 L518.50,306.18 L518.75,306.23 L519.00,306.28 L519.25,306.34 L519.50,306.39 L519.75,306.45 L520.00,306.50 L520.25,306.55 L520.50,306.61 L520.75,306.66 L521.00,306.72 L521.25,306.77 L521.50,306.82 L521.75,306.88 L522.00,306.93 L522.25,306.98 L522.50,307.04 L522.75,307.09 L523.00,307.15 L523.25,307.20 L523.50,307.25 L523.75,307.31 L524.00,307.36 L524.25,307.41 L524.50,307.47 L524.75,307.52 L525.00,307.58 L525.25,307.63 L525.50,307.68 L525.75,307.74 L526.00,307.79 L526.25,307.84 L526.50,307.90 L526.75,307.95 L527.00,308.01 L527.25,308.06 L527.50,308.11 L527.75,308.17 L528.00,308.22 L528.25,308.27 L528.50,308.33 L528.75,308.38 L529.00,308.44 L529.25,308.49 L529.50,308.54 L529.75,308.60 L530.00,308.65 L530.25,308.70 L530.50,308.76 L530.75,308.81 L531.00,308.87 L531.25,308.92 L531.50,308.97 L531.75,309.03 L532.00,309.08 L532.25,309.13 L532.50,309.19 L532.75,309.24 L533.00,309.30 L533.25,309.35 L533.50,309.40 L533.75,309.46 L534.00,309.51 L534.25,309.56 L534.50,309.62 L534.75,309.67 L535.00,309.73 L535.25,309.78 L535.50,309.83 L535.75,309.89 L536.00,309.94 L536.25,309.99 L536.50,310.05 L536.75,310.10 L537.00,310.16 L537.25,310.21 L537.50,310.26 L537.75,310.32 L538.00,310.37 L538.25,310.42 L538.50,310.48 L538.75,310.53 L539.00,310.59 L539.25,310.64 L539.50,310.69 L539.75,310.75 L540.00,310.80 L540.25,310.85 L540.50,310.91 L540.75,310.96 L541.00,311.02 L541.25,311.07 L541.50,311.12 L541.75,311.18 L542.00,311.23 L542.25,311.28 L542.50,311.34 L542.75,311.39 L543.00,311.45 L543.25,311.50 L543.50,311.55 L543.75,311.61 L544.00,311.66 L544.25,311.71 L544.50,311.77 L544.75,311.82 L545.00,311.88 L545.25,311.93 L545.50,311.98 L545.75,312.04 L546.00,312.09 L546.25,312.14 L546.50,312.20 L546.75,312.25 L547.00,312.31 L547.25,312.36 L547.50,312.41 L547.75,312.47 L548.00,312.52 L548.25,312.57 L548.50,312.63 L548.75,312.68 L549.00,312.74 L549.25,312.79 L549.50,312.84 L549.75,312.90 L550.00,312.95 L550.25,313.00 L550.50,313.06 L550.75,313.11 L551.00,313.17 L551.25,313.22 L551.50,313.27 L551.75,313.33 L552.00,313.38 L552.25,313.43 L552.50,313.49 L552.75,313.54 L553.00,313.60 L553.25,313.65 L553.50,313.70 L553.75,313.76 L554.00,313.81 L554.25,313.86 L554.50,313.92 L554.75,313.97 L555.00,314.03 L555.25,314.08 L555.50,314.13 L555.75,314.19 L556.00,314.24 L556.25,314.29 L556.50,314.35 L556.75,314.40 L557.00,314.46 L557.25,314.51 L557.50,314.56 L557.75,314.62 L558.00,314.67 L558.25,314.72 L558.50,314.78 L558.75,314.83 L559.00,314.89 L559.25,314.94 L559.50,314.99 L559.75,315.05 L560.00,315.10 L560.25,315.15 L560.50,315.21 L560.75,315.26 L561.00,315.32 L561.25,315.37 L561.50,315.42 L561.75,315.48 L562.00,315.53 L562.25,315.58 L562.50,315.64 L562.75,315.69 L563.00,315.75 L563.25,315.80 L563.50,315.85 L563.75,315.91 L564.00,315.96 L564.25,316.01 L564.50,316.07 L564.75,316.12 L565.00,316.18 L565.25,316.23 L565.50,316.28 L565.75,316.34 L566.00,316.39 L566.25,316.44 L566.50,316.50 L566.75,316.55 L567.00,316.61 L567.25,316.66 L567.50,316.71 L567.75,316.77 L568.00,316.82 L568.25,316.87 L568.50,316.93 L568.75,316.98 L569.00,317.04 L569.25,317.09 L569.50,317.14 L569.75,317.20 L570.00,317.25 L570.25,317.30 L570.50,317.36 L570.75,317.41 L571.00,317.47 L571.25,317.52 L571.50,317.57 L571.75,317.63 L572.00,317.68 L572.25,317.73 L572.50,317.79 L572.75,317.84 L573.00,317.90 L573.25,317.95 L573.50,318.00 L573.75,318.06 L574.00,318.11 L574.25,318.16 L574.50,318.22 L574.75,318.27 L575.00,318.33 L575.25,318.38 L575.50,318.43 L575.75,318.49 L576.00,318.54 L576.25,318.59 L576.50,318.65 L576.75,318.70 L577.00,318.76 L577.25,318.81 L577.50,318.86 L577.75,318.92 L578.00,318.97 L578.25,319.02 L578.50,319.08 L578.75,319.13 L579.00,319.19 L579.25,319.24 L579.50,319.29 L579.75,319.35 L580.00,319.40 L580.25,319.45 L580.50,319.51 L580.75,319.56 L581.00,319.62 L581.25,319.67 L581.50,319.72 L581.75,319.78 L582.00,319.83 L582.25,319.88 L582.50,319.94 L582.75,319.99 L583.00,320.05 L583.25,320.10 L583.50,320.15 L583.75,320.21 L584.00,320.26 L584.25,320.31 L584.50,320.37 L584.75,320.42 L585.00,320.48 L585.25,320.53 L585.50,320.58 L585.75,320.64 L586.00,320.69 L586.25,320.74 L586.50,320.80 L586.75,320.85 L587.00,320.91 L587.25,320.96 L587.50,321.01 L587.75,321.07 L588.00,321.12 L588.25,321.17 L588.50,321.23 L588.75,321.28 L589.00,321.34 L589.25,321.39 L589.50,321.44 L589.75,321.50 L590.00,321.55 L590.25,321.60 L590.50,321.66 L590.75,321.71 L591.00,321.77 L591.25,321.82 L591.50,321.87 L591.75,321.93 L592.00,321.98 L592.25,322.03 L592.50,322.09 L592.75,322.14 L593.00,322.20 L593.25,322.25 L593.50,322.30 L593.75,322.36 L594.00,322.41 L594.25,322.46 L594.50,322.52 L594.75,322.57 L595.00,322.63 L595.25,322.68 L595.50,322.73 L595.75,322.79 L596.00,322.84 L596.25,322.89 L596.50,322.95 L596.75,323.00 L597.00,323.06 L597.25,323.11 L597.50,323.16 L597.75,323.22 L598.00,323.27 L598.25,323.32 L598.50,323.38 L598.75,323.43 L599.00,323.49 L599.25,323.54 L599.50,323.59 L599.75,323.65 L600.00,323.70 L600.25,323.75 L600.50,323.81 L600.75,323.86 L601.00,323.92 L601.25,323.97 L601.50,324.02 L601.75,324.08 L602.00,324.13 L602.25,324.19 L602.50,324.24 L602.75,324.29 L603.00,324.35 L603.25,324.40 L603.50,324.45 L603.75,324.51 L604.00,324.56 L604.25,324.62 L604.50,324.67 L604.75,324.72 L605.00,324.78 L605.25,324.83 L605.50,324.88 L605.75,324.94 L606.00,324.99 L606.25,325.05 L606.50,325.10 L606.75,325.15 L607.00,325.21 L607.25,325.26 L607.50,325.31 L607.75,325.37 L608.00,325.42 L608.25,325.48 L608.50,325.53 L608.75,325.58 L609.00,325.64 L609.25,325.69 L609.50,325.74 L609.75,325.80 L610.00,325.85 L610.25,325.91 L610.50,325.96 L610.75,326.01 L611.00,326.07 L611.25,326.12 L611.50,326.17 L611.75,326.23 L612.00,326.28 L612.25,326.34 L612.50,326.39 L612.75,326.44 L613.00,326.50 L613.25,326.55 L613.50,326.60 L613.75,326.66 L614.00,326.71 L614.25,326.77 L614.50,326.82 L614.75,326.87 L615.00,326.93 L615.25,326.98 L615.50,327.03 L615.75,327.09 L616.00,327.14 L616.25,327.20 L616.50,327.25 L616.75,327.30 L617.00,327.36 L617.25,327.41 L617.50,327.46 L617.75,327.52 L618.00,327.57 L618.25,327.63 L618.50,327.68 L618.75,327.73 L619.00,327.79 L619.25,327.84 L619.50,327.89 L619.75,327.95 L620.00,328.00 L620.25,328.06 L620.50,328.11 L620.75,328.16 L621.00,328.22 L621.25,328.27 L621.50,328.32 L621.75,328.38 L622.00,328.43 L622.25,328.49 L622.50,328.54 L622.75,328.59 L623.00,328.65 L623.25,328.70 L623.50,328.75 L623.75,328.81 L624.00,328.86 L624.25,328.92 L624.50,328.97 L624.75,329.02 L625.00,329.08 L625.25,329.13 L625.50,329.18 L625.75,329.24 L626.00,329.29 L626.25,329.35 L626.50,329.40 L626.75,329.45 L627.00,329.51 L627.25,329.56 L627.50,329.61 L627.75,329.67 L628.00,329.72 L628.25,329.78 L628.50,329.83 L628.75,329.88 L629.00,329.94 L629.25,329.99 L629.50,330.04 L629.75,330.10 L630.00,330.15 L630.25,330.21 L630.50,330.26 L630.75,330.31 L631.00,330.37 L631.25,330.42 L631.50,330.47 L631.75,330.53 L632.00,330.58 L632.25,330.64 L632.50,330.69 L632.75,330.74 L633.00,330.80 L633.25,330.85 L633.50,330.90 L633.75,330.96 L634.00,331.01 L634.25,331.06 L634.50,331.12 L634.75,331.17 L635.00,331.23 L635.25,331.28 L635.50,331.33 L635.75,331.39 L636.00,331.44 L636.25,331.49 L636.50,331.55 L636.75,331.60 L637.00,331.66 L637.25,331.71 L637.50,331.76 L637.75,331.82 L638.00,331.87 L638.25,331.92 L638.50,331.98 L638.75,332.03 L639.00,332.09 L639.25,332.14 L639.50,332.19 L639.75,332.25 L640.00,332.30 L640.25,332.35 L640.50,332.41 L640.75,332.46 L641.00,332.51 L641.25,332.57 L641.50,332.62 L641.75,332.68 L642.00,332.73 L642.25,332.78 L642.50,332.84 L642.75,332.89 L643.00,332.94 L643.25,333.00 L643.50,333.05 L643.75,333.11 L644.00,333.16 L644.25,333.21 L644.50,333.27 L644.75,333.32 L645.00,333.37 L645.25,333.43 L645.50,333.48 L645.75,333.53 L646.00,333.59 L646.25,333.64 L646.50,333.70 L646.75,333.75 L647.00,333.80 L647.25,333.86 L647.50,333.91 L647.75,333.96 L648.00,334.02 L648.25,334.07 L648.50,334.12 L648.75,334.18 L649.00,334.23 L649.25,334.29 L649.50,334.34 L649.75,334.39 L650.00,334.45 L650.25,334.50 L650.50,334.55 L650.75,334.61 L651.00,334.66 L651.25,334.71 L651.50,334.77 L651.75,334.82 L652.00,334.88 L652.25,334.93 L652.50,334.98 L652.75,335.04 L653.00,335.09 L653.25,335.14 L653.50,335.20 L653.75,335.25 L654.00,335.30 L654.25,335.36 L654.50,335.41 L654.75,335.47 L655.00,335.52 L655.25,335.57 L655.50,335.63 L655.75,335.68 L656.00,335.73 L656.25,335.79 L656.50,335.84 L656.75,335.89 L657.00,335.95 L657.25,336.00 L657.50,336.06 L657.75,336.11 L658.00,336.16 L658.25,336.22 L658.50,336.27 L658.75,336.32 L659.00,336.38 L659.25,336.43 L659.50,336.48 L659.75,336.54 L660.00,336.59 L660.25,336.65 L660.50,336.70 L660.75,336.75 L661.00,336.81 L661.25,336.86 L661.50,336.91 L661.75,336.97 L662.00,337.02 L662.25,337.07 L662.50,337.13 L662.75,337.18 L663.00,337.24 L663.25,337.29 L663.50,337.34 L663.75,337.40 L664.00,337.45 L664.25,337.50 L664.50,337.56 L664.75,337.61 L665.00,337.66 L665.25,337.72 L665.50,337.77 L665.75,337.82 L666.00,337.88 L666.25,337.93 L666.50,337.99 L666.75,338.04 L667.00,338.09 L667.25,338.15 L667.50,338.20" stroke="#0000ff"/>
<path d="M86.90,215.00 L87.10,214.17 L87.30,213.35 L87.50,212.54 L87.70,211.74 L87.90,210.95 L88.10,210.17 L88.30,209.41 L88.50,208.66 L88.70,207.91 L88.90,207.18 L89.10,206.47 L89.30,205.76 L89.50,205.07 L89.70,204.39 L89.90,203.72 L90.10,203.05 L90.30,202.38 L90.50,201.72 L90.70,201.06 L90.90,200.41 L91.10,199.77 L91.30,199.15 L91.50,198.56 L91.70,197.98 L91.90,197.44 L92.10,196.92 L92.30,196.44 L92.50,196.00 L92.70,195.58 L92.90,195.17 L93.10,194.78 L93.30,194.40 L93.50,194.03 L93.70,193.68 L93.90,193.33 L94.10,193.00 L94.30,192.69 L94.50,192.38 L94.70,192.08 L94.90,191.80 L95.10,191.53 L95.30,191.27 L95.50,191.02 L95.70,190.79 L95.90,190.56 L96.10,190.33 L96.30,190.11 L96.50,189.89 L96.70,189.67 L96.90,189.47 L97.10,189.27 L97.30,189.08 L97.50,188.90 L97.70,188.73 L97.90,188.58 L98.10,188.44 L98.30,188.31 L98.50,188.21 L98.70,188.11 L98.90,188.03 L99.10,187.94 L99.30,187.86 L99.50,187.78 L99.70,187.71 L99.90,187.63 L100.10,187.57 L100.30,187.51 L100.50,187.45 L100.70,187.40 L100.90,187.36 L101.10,187.33 L101.30,187.31 L101.50,187.30 L101.60,187.30 L101.70,187.30 L101.80,187.30 L101.90,187.30 L102.00,187.31 L102.10,187.31 L102.20,187.31 L102.30,187.32 L102.40,187.32 L102.50,187.33 L102.60,187.34 L102.70,187.35 L102.80,187.35 L102.90,187.36 L103.00,187.37 L103.10,187.38 L103.20,187.39 L103.30,187.41 L103.40,187.42 L103.50,187.43 L103.60,187.44 L103.70,187.46 L103.80,187.47 L103.90,187.49 L104.00,187.50 L104.10,187.52 L104.20,187.53 L104.30,187.55 L104.40,187.57 L104.50,187.58 L104.60,187.60 L104.70,187.62 L104.80,187.64 L104.90,187.66 L105.00,187.67 L105.10,187.69 L105.20,187.71 L105.30,187.73 L105.40,187.75 L105.50,187.77 L105.60,187.79 L105.70,187.82 L105.80,187.84 L105.90,187.86 L106.00,187.88 L106.10,187.90 L106.20,187.92 L106.30,187.94 L106.40,187.97 L106.50,187.99 L106.60,188.01 L106.70,188.03 L106.80,188.06 L106.90,188.08 L107.00,188.10 L107.10,188.12 L107.20,188.15 L107.30,188.17 L107.40,188.20 L107.50,188.23 L107.60,188.26 L107.70,188.30 L107.80,188.33 L107.90,188.36 L108.00,188.40 L108.10,188.44 L108.20,188.48 L108.30,188.52 L108.40,188.56 L108.50,188.60 L108.60,188.64 L108.70,188.68 L108.80,188.73 L108.90,188.77 L109.00,188.82 L109.10,188.86 L109.20,188.91 L109.30,188.95 L109.40,189.00 L109.50,189.05 L109.60,189.09 L109.70,189.14 L109.80,189.19 L109.90,189.23 L110.00,189.28 L110.10,189.33 L110.20,189.37 L110.30,189.42 L110.40,189.46 L110.50,189.51 L110.60,189.56 L110.70,189.60 L110.80,189.64 L110.90,189.69 L111.00,189.73 L111.10,189.78 L111.20,189.82 L111.30,189.87 L111.40,189.91 L111.50,189.96 L111.60,190.01 L111.70,190.05 L111.80,190.10 L111.90,190.15 L112.00,190.19 L112.10,190.24 L112.20,190.29 L112.30,190.34 L112.40,190.38 L112.50,190.43 L112.60,190.48 L112.70,190.53 L112.80,190.58 L112.90,190.63 L113.00,190.68 L113.10,190.73 L113.20,190.78 L113.30,190.83 L113.40,190.88 L113.50,190.93 L113.60,190.98 L113.70,191.03 L113.80,191.08 L113.90,191.14 L114.00,191.19 L114.10,191.24 L114.20,191.29 L114.30,191.35 L114.40,191.40 L114.50,191.45 L114.60,191.51 L114.70,191.56 L114.80,191.62 L114.90,191.67 L115.00,191.73 L115.10,191.78 L115.20,191.84 L115.30,191.89 L115.40,191.95 L115.50,192.01 L115.60,192.07 L115.70,192.12 L115.80,192.18 L115.90,192.24 L116.00,192.30 L116.10,192.36 L116.20,192.42 L116.30,192.48 L116.40,192.54 L116.50,192.60 L116.60,192.66 L116.70,192.72 L116.80,192.78 L116.90,192.84 L117.00,192.90 L117.10,192.96 L117.20,193.03 L117.30,193.09 L117.40,193.15 L117.50,193.21 L117.60,193.28 L117.70,193.34 L117.80,193.41 L117.90,193.47 L118.00,193.53 L118.10,193.60 L118.20,193.67 L118.30,193.73 L118.40,193.80 L118.50,193.86 L118.60,193.93 L118.70,194.00 L118.80,194.07 L118.90,194.13 L119.00,194.20 L119.10,194.27 L119.20,194.34 L119.30,194.41 L119.40,194.48 L119.50,194.55 L119.60,194.62 L119.70,194.69 L119.80,194.76 L119.90,194.83 L120.00,194.91 L120.10,194.98 L120.20,195.05 L120.30,195.13 L120.40,195.20 L120.50,195.27 L120.60,195.35 L120.70,195.42 L120.80,195.50 L120.90,195.58 L121.00,195.65 L121.10,195.73 L121.20,195.81 L121.30,195.88 L121.40,195.96 L121.50,196.04 L121.60,196.12 L121.70,196.20 L121.80,196.28 L121.90,196.36 L122.00,196.44 L122.10,196.52 L122.20,196.60 L122.30,196.68 L122.40,196.76 L122.50,196.84 L122.60,196.92 L122.70,197.01 L122.80,197.09 L122.90,197.17 L123.00,197.25 L123.10,197.34 L123.20,197.42 L123.30,197.51 L123.40,197.59 L123.50,197.68 L123.60,197.76 L123.70,197.85 L123.80,197.94 L123.90,198.03 L124.00,198.12 L124.10,198.21 L124.20,198.30 L124.30,198.40 L124.40,198.49 L124.50,198.59 L124.60,198.68 L124.70,198.78 L124.80,198.88 L124.90,198.98 L125.00,199.08 L125.10,199.18 L125.20,199.29 L125.30,199.39 L125.40,199.50 L125.50,199.61 L125.60,199.72 L125.70,199.83 L125.80,199.95 L125.90,200.06 L126.00,200.18 L126.10,200.30 L126.20,200.42 L126.30,200.54 L126.40,200.67 L126.50,200.79 L126.60,200.92 L126.70,201.05 L126.80,201.18 L126.90,201.32 L127.00,201.45 L127.10,201.59 L127.20,201.72 L127.30,201.86 L127.40,202.01 L127.50,202.15 L127.60,202.29 L127.70,202.44 L127.80,202.59 L127.90,202.73 L128.00,202.88 L128.10,203.04 L128.20,203.19 L128.30,203.34 L128.40,203.50 L128.50,203.66 L128.60,203.81 L128.70,203.97 L128.80,204.13 L128.90,204.28 L129.00,204.44 L129.10,204.60 L129.20,204.77 L129.30,204.93 L129.40,205.10 L129.50,205.27 L129.60,205.45 L129.70,205.62 L129.80,205.81 L129.90,205.99 L130.00,206.19 L130.10,206.38 L130.20,206.59 L130.30,206.80 L130.40,207.01 L130.50,207.23 L130.60,207.46 L130.70,207.70 L130.80,207.95 L130.90,208.20 L131.00,208.46 L131.10,208.71 L131.20,208.97 L131.30,209.23 L131.40,209.51 L131.50,209.82 L131.60,210.15 L131.70,210.51 L131.80,210.91 L131.90,211.35 L132.00,211.84 L132.10,212.39 L132.20,213.00 L132.30,213.69 L132.40,214.55 L132.50,215.69 L132.60,217.24 L132.70,219.30 L132.80,222.00 L132.90,231.97 L133.00,251.69 L133.10,265.60 L133.25,230.07 L133.40,224.67 L133.55,221.52 L133.70,219.30 L133.85,217.59 L134.00,216.20 L134.15,215.03 L134.30,214.02 L134.45,213.13 L134.60,212.34 L134.75,211.64 L134.90,210.99 L135.05,210.40 L135.20,209.86 L135.35,209.36 L135.50,208.90 L135.65,208.46 L135.80,208.05 L135.95,207.67 L136.10,207.31 L136.25,206.97 L136.40,206.64 L136.55,206.33 L136.70,206.04 L136.85,205.76 L137.00,205.50 L137.15,205.24 L137.30,205.00 L137.45,204.77 L137.60,204.55 L137.75,204.33 L137.90,204.13 L138.05,203.93 L138.20,203.74 L138.35,203.55 L138.50,203.38 L138.65,203.20 L138.80,203.04 L138.95,202.88 L139.10,202.73 L139.25,202.58 L139.40,202.43 L139.55,202.29 L139.70,202.16 L139.85,202.03 L140.00,201.90 L140.15,201.78 L140.30,201.66 L140.45,201.54 L140.60,201.43 L140.75,201.32 L140.90,201.22 L141.05,201.12 L141.20,201.02 L141.35,200.92 L141.50,200.83 L141.65,200.74 L141.80,200.65 L141.95,200.56 L142.10,200.48 L142.25,200.40 L142.40,200.32 L142.55,200.24 L142.70,200.17 L142.85,200.10 L143.00,200.03 L143.15,199.96 L143.30,199.89 L143.45,199.83 L143.60,199.76 L143.75,199.70 L143.90,199.64 L144.05,199.59 L144.20,199.53 L144.35,199.48 L144.50,199.43 L144.65,199.37 L144.80,199.32 L144.95,199.28 L145.10,199.23 L145.25,199.19 L145.40,199.14 L145.55,199.10 L145.70,199.06 L145.85,199.02 L146.00,198.98 L146.15,198.94 L146.30,198.91 L146.45,198.87 L146.60,198.84 L146.75,198.81 L146.90,198.78 L147.05,198.75 L147.20,198.72 L147.35,198.69 L147.50,198.67 L147.65,198.64 L147.80,198.62 L147.95,198.59 L148.10,198.57 L148.25,198.55 L148.40,198.53 L148.55,198.51 L148.70,198.49 L148.85,198.47 L149.00,198.46 L149.15,198.44 L149.30,198.43 L149.45,198.41 L149.60,198.40 L149.75,198.39 L149.90,198.37 L150.05,198.36 L150.20,198.35 L150.35,198.35 L150.50,198.34 L150.65,198.33 L150.80,198.32 L150.95,198.32 L151.10,198.31 L151.25,198.31 L151.40,198.31 L151.55,198.30 L151.70,198.30 L151.85,198.30 L152.00,198.30 L152.15,198.30 L152.30,198.30 L152.45,198.30 L152.60,198.31 L152.75,198.31 L152.90,198.31 L153.05,198.32 L153.20,198.32 L153.35,198.33 L153.50,198.34 L153.65,198.34 L153.80,198.35 L153.95,198.36 L154.10,198.37 L154.25,198.38 L154.40,198.39 L154.55,198.40 L154.70,198.41 L154.85,198.42 L155.00,198.44 L155.15,198.45 L155.30,198.46 L155.45,198.48 L155.60,198.50 L155.75,198.51 L155.90,198.53 L156.05,198.55 L156.20,198.56 L156.35,198.58 L156.50,198.60 L156.65,198.62 L156.80,198.64 L156.95,198.66 L157.10,198.68 L157.25,198.70 L157.40,198.73 L157.55,198.75 L157.70,198.77 L157.85,198.80 L158.00,198.82 L158.15,198.85 L158.30,198.87 L158.45,198.90 L158.60,198.93 L158.75,198.96 L158.90,198.98 L159.05,199.01 L159.20,199.04 L159.35,199.07 L159.50,199.10 L159.65,199.13 L159.80,199.17 L159.95,199.20 L160.10,199.23 L160.25,199.26 L160.40,199.30 L160.55,199.33 L160.70,199.37 L160.85,199.40 L161.00,199.44 L161.15,199.47 L161.30,199.51 L161.45,199.55 L161.60,199.59 L161.75,199.63 L161.90,199.66 L162.05,199.70 L162.20,199.74 L162.35,199.79 L162.50,199.83 L162.65,199.87 L162.80,199.91 L162.95,199.95 L163.10,200.00 L163.25,200.04 L163.40,200.09 L163.55,200.13 L163.70,200.18 L163.85,200.22 L164.00,200.27 L164.15,200.32 L164.30,200.37 L164.45,200.41 L164.60,200.46 L164.75,200.51 L164.90,200.56 L165.05,200.61 L165.20,200.67 L165.35,200.72 L165.50,200.77 L165.65,200.82 L165.80,200.88 L165.95,200.93 L166.10,200.99 L166.25,201.04 L166.40,201.10 L166.55,201.15 L166.70,201.21 L166.85,201.27 L167.00,201.33 L167.15,201.39 L167.30,201.45 L167.45,201.51 L167.60,201.57 L167.75,201.63 L167.90,201.69 L168.05,201.75 L168.20,201.82 L168.35,201.88 L168.50,201.95 L168.65,202.01 L168.80,202.08 L168.95,202.14 L169.10,202.21 L169.25,202.28 L169.40,202.35 L169.55,202.42 L169.70,202.49 L169.85,202.56 L170.00,202.63 L170.15,202.70 L170.30,202.77 L170.45,202.85 L170.60,202.92 L170.75,203.00 L170.90,203.07 L171.05,203.15 L171.20,203.22 L171.35,203.30 L171.50,203.38 L171.65,203.46 L171.80,203.54 L171.95,203.62 L172.10,203.70 L172.25,203.79 L172.40,203.87 L172.55,203.95 L172.70,204.04 L172.85,204.12 L173.00,204.21 L173.15,204.30 L173.30,204.39 L173.45,204.47 L173.60,204.56 L173.75,204.66 L173.90,204.75 L174.05,204.84 L174.20,204.93 L174.35,205.03 L174.50,205.12 L174.65,205.22 L174.80,205.32 L174.95,205.42 L175.10,205.52 L175.25,205.62 L175.40,205.72 L175.55,205.82 L175.70,205.93 L175.85,206.03 L176.00,206.14 L176.15,206.25 L176.30,206.35 L176.45,206.46 L176.60,206.58 L176.75,206.69 L176.90,206.80 L177.05,206.92 L177.20,207.03 L177.35,207.15 L177.50,207.27 L177.65,207.39 L177.80,207.51 L177.95,207.63 L178.10,207.76 L178.25,207.88 L178.40,208.01 L178.55,208.14 L178.70,208.27 L178.85,208.41 L179.00,208.54 L179.15,208.68 L179.30,208.81 L179.45,208.95 L179.60,209.10 L179.75,209.24 L179.90,209.39 L180.05,209.53 L180.20,209.68 L180.35,209.84 L180.50,209.99 L180.65,210.15 L180.80,210.31 L180.95,210.47 L181.10,210.63 L181.25,210.80 L181.40,210.97 L181.55,211.14 L181.70,211.32 L181.85,211.49 L182.00,211.68 L182.15,211.86 L182.30,212.05 L182.45,212.24 L182.60,212.44 L182.75,212.63 L182.90,212.84 L183.05,213.04 L183.20,213.26 L183.35,213.47 L183.50,213.69 L183.65,213.92 L183.80,214.15 L183.95,214.38 L184.10,214.63 L184.25,214.87 L184.40,215.13 L184.55,215.39 L184.70,215.66 L184.85,215.93 L185.00,216.22 L185.15,216.51 L185.30,216.81 L185.45,217.12 L185.60,217.44 L185.75,217.77 L185.90,218.12 L186.05,218.48 L186.20,218.85 L186.35,219.24 L186.50,219.64 L186.65,220.06 L186.80,220.51 L186.95,220.97 L187.10,221.47 L187.25,221.99 L187.40,222.54 L187.55,223.13 L187.70,223.76 L187.85,224.44 L188.00,225.18 L188.15,225.99 L188.30,226.88 L188.45,227.88 L188.60,229.01 L188.75,230.32 L188.90,231.88 L189.05,233.81 L189.20,236.35 L189.35,240.07 L189.50,247.30 L189.60,270.30 L189.75,243.36 L189.90,237.95 L190.05,234.80 L190.20,232.57 L190.35,230.85 L190.50,229.45 L190.65,228.27 L190.80,227.25 L190.95,226.36 L191.10,225.56 L191.25,224.84 L191.40,224.19 L191.55,223.59 L191.70,223.04 L191.85,222.53 L192.00,222.06 L192.15,221.61 L192.30,221.20 L192.45,220.81 L192.60,220.44 L192.75,220.08 L192.90,219.75 L193.05,219.44 L193.20,219.14 L193.35,218.85 L193.50,218.57 L193.65,218.31 L193.80,218.06 L193.95,217.82 L194.10,217.59 L194.25,217.36 L194.40,217.15 L194.55,216.94 L194.70,216.74 L194.85,216.55 L195.00,216.36 L195.15,216.18 L195.30,216.01 L195.45,215.84 L195.60,215.68 L195.75,215.52 L195.90,215.37 L196.05,215.22 L196.20,215.08 L196.35,214.94 L196.50,214.80 L196.65,214.67 L196.80,214.54 L196.95,214.42 L197.10,214.29 L197.25,214.18 L197.40,214.06 L197.55,213.95 L197.70,213.84 L197.85,213.74 L198.00,213.64 L198.15,213.54 L198.30,213.44 L198.45,213.34 L198.60,213.25 L198.75,213.16 L198.90,213.07 L199.05,212.99 L199.20,212.90 L199.35,212.82 L199.50,212.74 L199.65,212.67 L199.80,212.59 L199.95,212.52 L200.10,212.45 L200.25,212.38 L200.40,212.31 L200.55,212.24 L200.70,212.18 L200.85,212.11 L201.00,212.05 L201.15,211.99 L201.30,211.93 L201.45,211.88 L201.60,211.82 L201.75,211.77 L201.90,211.72 L202.05,211.66 L202.20,211.61 L202.35,211.57 L202.50,211.52 L202.65,211.47 L202.80,211.43 L202.95,211.38 L203.10,211.34 L203.25,211.30 L203.40,211.26 L203.55,211.22 L203.70,211.18 L203.85,211.15 L204.00,211.11 L204.15,211.08 L204.30,211.04 L204.45,211.01 L204.60,210.98 L204.75,210.95 L204.90,210.92 L205.05,210.89 L205.20,210.86 L205.35,210.83 L205.50,210.81 L205.65,210.78 L205.80,210.76 L205.95,210.74 L206.10,210.71 L206.25,210.69 L206.40,210.67 L206.55,210.65 L206.70,210.63 L206.85,210.61 L207.00,210.60 L207.15,210.58 L207.30,210.56 L207.45,210.55 L207.60,210.53 L207.75,210.52 L207.90,210.51 L208.05,210.50 L208.20,210.49 L208.35,210.47 L208.50,210.46 L208.65,210.46 L208.80,210.45 L208.95,210.44 L209.10,210.43 L209.25,210.43 L209.40,210.42 L209.55,210.42 L209.70,210.41 L209.85,210.41 L210.00,210.41 L210.15,210.40 L210.30,210.40 L210.45,210.40 L210.60,210.40 L210.75,210.40 L210.90,210.40 L211.05,210.40 L211.20,210.41 L211.35,210.41 L211.50,210.41 L211.65,210.42 L211.80,210.42 L211.95,210.43 L212.10,210.43 L212.25,210.44 L212.40,210.44 L212.55,210.45 L212.70,210.46 L212.85,210.47 L213.00,210.48 L213.15,210.49 L213.30,210.50 L213.45,210.51 L213.60,210.52 L213.75,210.53 L213.90,210.55 L214.05,210.56 L214.20,210.57 L214.35,210.59 L214.50,210.60 L214.65,210.62 L214.80,210.64 L214.95,210.65 L215.10,210.67 L215.25,210.69 L215.40,210.71 L215.55,210.72 L215.70,210.74 L215.85,210.76 L216.00,210.78 L216.15,210.81 L216.30,210.83 L216.45,210.85 L216.60,210.87 L216.75,210.89 L216.90,210.92 L217.05,210.94 L217.20,210.97 L217.35,210.99 L217.50,211.02 L217.65,211.05 L217.80,211.07 L217.95,211.10 L218.10,211.13 L218.25,211.16 L218.40,211.19 L218.55,211.21 L218.70,211.24 L218.85,211.28 L219.00,211.31 L219.15,211.34 L219.30,211.37 L219.45,211.40 L219.60,211.44 L219.75,211.47 L219.90,211.50 L220.05,211.54 L220.20,211.58 L220.35,211.61 L220.50,211.65 L220.65,211.68 L220.80,211.72 L220.95,211.76 L221.10,211.80 L221.25,211.84 L221.40,211.88 L221.55,211.92 L221.70,211.96 L221.85,212.00 L222.00,212.04 L222.15,212.09 L222.30,212.13 L222.45,212.17 L222.60,212.22 L222.75,212.26 L222.90,212.31 L223.05,212.35 L223.20,212.40 L223.35,212.45 L223.50,212.49 L223.65,212.54 L223.80,212.59 L223.95,212.64 L224.10,212.69 L224.25,212.74 L224.40,212.79 L224.55,212.84 L224.70,212.89 L224.85,212.95 L225.00,213.00 L225.15,213.06 L225.30,213.11 L225.45,213.17 L225.60,213.22 L225.75,213.28 L225.90,213.34 L226.05,213.39 L226.20,213.45 L226.35,213.51 L226.50,213.57 L226.65,213.63 L226.80,213.69 L226.95,213.75 L227.10,213.82 L227.25,213.88 L227.40,213.94 L227.55,214.01 L227.70,214.07 L227.85,214.14 L228.00,214.21 L228.15,214.27 L228.30,214.34 L228.45,214.41 L228.60,214.48 L228.75,214.55 L228.90,214.62 L229.05,214.69 L229.20,214.77 L229.35,214.84 L229.50,214.91 L229.65,214.99 L229.80,215.06 L229.95,215.14 L230.10,215.22 L230.25,215.30 L230.40,215.37 L230.55,215.45 L230.70,215.54 L230.85,215.62 L231.00,215.70 L231.15,215.78 L231.30,215.87 L231.45,215.95 L231.60,216.04 L231.75,216.13 L231.90,216.21 L232.05,216.30 L232.20,216.39 L232.35,216.49 L232.50,216.58 L232.65,216.67 L232.80,216.77 L232.95,216.86 L233.10,216.96 L233.25,217.06 L233.40,217.15 L233.55,217.25 L233.70,217.36 L233.85,217.46 L234.00,217.56 L234.15,217.67 L234.30,217.77 L234.45,217.88 L234.60,217.99 L234.75,218.10 L234.90,218.21 L235.05,218.32 L235.20,218.44 L235.35,218.55 L235.50,218.67 L235.65,218.79 L235.80,218.91 L235.95,219.03 L236.10,219.16 L236.25,219.28 L236.40,219.41 L236.55,219.54 L236.70,219.67 L236.85,219.80 L237.00,219.94 L237.15,220.07 L237.30,220.21 L237.45,220.35 L237.60,220.50 L237.75,220.64 L237.90,220.79 L238.05,220.94 L238.20,221.09 L238.35,221.25 L238.50,221.41 L238.65,221.57 L238.80,221.73 L238.95,221.89 L239.10,222.06 L239.25,222.24 L239.40,222.41 L239.55,222.59 L239.70,222.77 L239.85,222.96 L240.00,223.15 L240.15,223.34 L240.30,223.54 L240.45,223.74 L240.60,223.94 L240.75,224.15 L240.90,224.37 L241.05,224.59 L241.20,224.81 L241.35,225.05 L241.50,225.28 L241.65,225.53 L241.80,225.78 L241.95,226.03 L242.10,226.30 L242.25,226.57 L242.40,226.85 L242.55,227.14 L242.70,227.44 L242.85,227.75 L243.00,228.07 L243.15,228.40 L243.30,228.75 L243.45,229.11 L243.60,229.48 L243.75,229.87 L243.90,230.28 L244.05,230.71 L244.20,231.15 L244.35,231.63 L244.50,232.13 L244.65,232.66 L244.80,233.23 L244.95,233.84 L245.10,234.49 L245.25,235.20 L245.40,235.98 L245.55,236.83 L245.70,237.78 L245.85,238.86 L246.00,240.10 L246.15,241.55 L246.30,243.33 L246.45,245.62 L246.60,248.83 L246.75,254.30 L246.90,283.40 L247.05,255.44 L247.20,250.03 L247.35,246.87 L247.50,244.64 L247.65,242.92 L247.80,241.51 L247.95,240.33 L248.10,239.31 L248.25,238.41 L248.40,237.61 L248.55,236.89 L248.70,236.24 L248.85,235.64 L249.00,235.09 L249.15,234.57 L249.30,234.10 L249.45,233.65 L249.60,233.23 L249.75,232.83 L249.90,232.46 L250.05,232.11 L250.20,231.77 L250.35,231.45 L250.50,231.15 L250.65,230.86 L250.80,230.58 L250.95,230.32 L251.10,230.06 L251.25,229.82 L251.40,229.58 L251.55,229.36 L251.70,229.14 L251.85,228.93 L252.00,228.73 L252.15,228.53 L252.30,228.34 L252.45,228.16 L252.60,227.99 L252.75,227.81 L252.90,227.65 L253.05,227.49 L253.20,227.33 L253.35,227.18 L253.50,227.03 L253.65,226.89 L253.80,226.75 L253.95,226.62 L254.10,226.49 L254.25,226.36 L254.40,226.24 L254.55,226.12 L254.70,226.00 L254.85,225.89 L255.00,225.78 L255.15,225.67 L255.30,225.56 L255.45,225.46 L255.60,225.36 L255.75,225.26 L255.90,225.17 L256.05,225.07 L256.20,224.98 L256.35,224.89 L256.50,224.81 L256.65,224.72 L256.80,224.64 L256.95,224.56 L257.10,224.48 L257.25,224.41 L257.40,224.33 L257.55,224.26 L257.70,224.19 L257.85,224.12 L258.00,224.05 L258.15,223.99 L258.30,223.92 L258.45,223.86 L258.60,223.80 L258.75,223.74 L258.90,223.68 L259.05,223.63 L259.20,223.57 L259.35,223.52 L259.50,223.46 L259.65,223.41 L259.80,223.36 L259.95,223.31 L260.10,223.27 L260.25,223.22 L260.40,223.18 L260.55,223.13 L260.70,223.09 L260.85,223.05 L261.00,223.01 L261.15,222.97 L261.30,222.93 L261.45,222.89 L261.60,222.86 L261.75,222.82 L261.90,222.79 L262.05,222.75 L262.20,222.72 L262.35,222.69 L262.50,222.66 L262.65,222.63 L262.80,222.60 L262.95,222.57 L263.10,222.55 L263.25,222.52 L263.40,222.49 L263.55,222.47 L263.70,222.45 L263.85,222.43 L264.00,222.40 L264.15,222.38 L264.30,222.36 L264.45,222.34 L264.60,222.33 L264.75,222.31 L264.90,222.29 L265.05,222.27 L265.20,222.26 L265.35,222.24 L265.50,222.23 L265.65,222.22 L265.80,222.21 L265.95,222.19 L266.10,222.18 L266.25,222.17 L266.40,222.16 L266.55,222.15 L266.70,222.15 L266.85,222.14 L267.00,222.13 L267.15,222.13 L267.30,222.12 L267.45,222.12 L267.60,222.11 L267.75,222.11 L267.90,222.11 L268.05,222.10 L268.20,222.10 L268.35,222.10 L268.50,222.10 L268.65,222.10 L268.80,222.10 L268.95,222.10 L269.10,222.10 L269.25,222.11 L269.40,222.11 L269.55,222.12 L269.70,222.12 L269.85,222.12 L270.00,222.13 L270.15,222.14 L270.30,222.14 L270.45,222.15 L270.60,222.16 L270.75,222.17 L270.90,222.18 L271.05,222.19 L271.20,222.20 L271.35,222.21 L271.50,222.22 L271.65,222.23 L271.80,222.24 L271.95,222.26 L272.10,222.27 L272.25,222.29 L272.40,222.30 L272.55,222.32 L272.70,222.33 L272.85,222.35 L273.00,222.37 L273.15,222.38 L273.30,222.40 L273.45,222.42 L273.60,222.44 L273.75,222.46 L273.90,222.48 L274.05,222.50 L274.20,222.52 L274.35,222.54 L274.50,222.57 L274.65,222.59 L274.80,222.61 L274.95,222.64 L275.10,222.66 L275.25,222.69 L275.40,222.71 L275.55,222.74 L275.70,222.76 L275.85,222.79 L276.00,222.82 L276.15,222.85 L276.30,222.88 L276.45,222.91 L276.60,222.94 L276.75,222.97 L276.90,223.00 L277.05,223.03 L277.20,223.06 L277.35,223.09 L277.50,223.13 L277.65,223.16 L277.80,223.20 L277.95,223.23 L278.10,223.27 L278.25,223.30 L278.40,223.34 L278.55,223.37 L278.70,223.41 L278.85,223.45 L279.00,223.49 L279.15,223.53 L279.30,223.57 L279.45,223.61 L279.60,223.65 L279.75,223.69 L279.90,223.73 L280.05,223.78 L280.20,223.82 L280.35,223.86 L280.50,223.91 L280.65,223.95 L280.80,224.00 L280.95,224.04 L281.10,224.09 L281.25,224.14 L281.40,224.19 L281.55,224.23 L281.70,224.28 L281.85,224.33 L282.00,224.38 L282.15,224.43 L282.30,224.49 L282.45,224.54 L282.60,224.59 L282.75,224.64 L282.90,224.70 L283.05,224.75 L283.20,224.81 L283.35,224.86 L283.50,224.92 L283.65,224.98 L283.80,225.04 L283.95,225.10 L284.10,225.15 L284.25,225.21 L284.40,225.28 L284.55,225.34 L284.70,225.40 L284.85,225.46 L285.00,225.53 L285.15,225.59 L285.30,225.65 L285.45,225.72 L285.60,225.79 L285.75,225.85 L285.90,225.92 L286.05,225.99 L286.20,226.06 L286.35,226.13 L286.50,226.20 L286.65,226.27 L286.80,226.35 L286.95,226.42 L287.10,226.49 L287.25,226.57 L287.40,226.64 L287.55,226.72 L287.70,226.80 L287.85,226.88 L288.00,226.96 L288.15,227.04 L288.30,227.12 L288.45,227.20 L288.60,227.28 L288.75,227.37 L288.90,227.45 L289.05,227.54 L289.20,227.63 L289.35,227.72 L289.50,227.80 L289.65,227.90 L289.80,227.99 L289.95,228.08 L290.10,228.17 L290.25,228.27 L290.40,228.36 L290.55,228.46 L290.70,228.56 L290.85,228.66 L291.00,228.76 L291.15,228.86 L291.30,228.96 L291.45,229.07 L291.60,229.17 L291.75,229.28 L291.90,229.39 L292.05,229.50 L292.20,229.61 L292.35,229.72 L292.50,229.84 L292.65,229.95 L292.80,230.07 L292.95,230.19 L293.10,230.31 L293.25,230.43 L293.40,230.56 L293.55,230.69 L293.70,230.81 L293.85,230.94 L294.00,231.07 L294.15,231.21 L294.30,231.34 L294.45,231.48 L294.60,231.62 L294.75,231.76 L294.90,231.91 L295.05,232.06 L295.20,232.21 L295.35,232.36 L295.50,232.51 L295.65,232.67 L295.80,232.83 L295.95,232.99 L296.10,233.16 L296.25,233.33 L296.40,233.50 L296.55,233.68 L296.70,233.85 L296.85,234.04 L297.00,234.22 L297.15,234.41 L297.30,234.61 L297.45,234.81 L297.60,235.01 L297.75,235.22 L297.90,235.43 L298.05,235.65 L298.20,235.87 L298.35,236.10 L298.50,236.33 L298.65,236.57 L298.80,236.82 L298.95,237.07 L299.10,237.34 L299.25,237.61 L299.40,237.88 L299.55,238.17 L299.70,238.47 L299.85,238.77 L300.00,239.09 L300.15,239.42 L300.30,239.76 L300.45,240.12 L300.60,240.49 L300.75,240.87 L300.90,241.28 L301.05,241.70 L301.20,242.15 L301.35,242.62 L301.50,243.12 L301.65,243.65 L301.80,244.22 L301.95,244.82 L302.10,245.47 L302.25,246.18 L302.40,246.95 L302.55,247.80 L302.70,248.75 L302.85,249.82 L303.00,251.06 L303.15,252.51 L303.30,254.29 L303.45,256.57 L303.60,259.78 L303.75,265.25 L303.90,303.80 L304.05,265.30 L304.20,259.90 L304.35,256.75 L304.50,254.53 L304.65,252.81 L304.80,251.42 L304.95,250.25 L305.10,249.23 L305.25,248.35 L305.40,247.56 L305.55,246.84 L305.70,246.20 L305.85,245.61 L306.00,245.06 L306.15,244.56 L306.30,244.09 L306.45,243.65 L306.60,243.24 L306.75,242.85 L306.90,242.49 L307.05,242.14 L307.20,241.82 L307.35,241.51 L307.50,241.21 L307.65,240.93 L307.80,240.66 L307.95,240.41 L308.10,240.16 L308.25,239.93 L308.40,239.70 L308.55,239.48 L308.70,239.27 L308.85,239.07 L309.00,238.88 L309.15,238.69 L309.30,238.51 L309.45,238.34 L309.60,238.17 L309.75,238.01 L309.90,237.85 L310.05,237.70 L310.20,237.55 L310.35,237.41 L310.50,237.27 L310.65,237.14 L310.80,237.01 L310.95,236.89 L311.10,236.76 L311.25,236.65 L311.40,236.53 L311.55,236.42 L311.70,236.31 L311.85,236.21 L312.00,236.11 L312.15,236.01 L312.30,235.91 L312.45,235.82 L312.60,235.72 L312.75,235.64 L312.90,235.55 L313.05,235.47 L313.20,235.39 L313.35,235.31 L313.50,235.23 L313.65,235.15 L313.80,235.08 L313.95,235.01 L314.10,234.94 L314.25,234.87 L314.40,234.81 L314.55,234.75 L314.70,234.68 L314.85,234.62 L315.00,234.57 L315.15,234.51 L315.30,234.45 L315.45,234.40 L315.60,234.35 L315.75,234.30 L315.90,234.25 L316.05,234.20 L316.20,234.16 L316.35,234.11 L316.50,234.07 L316.65,234.03 L316.80,233.99 L316.95,233.95 L317.10,233.91 L317.25,233.87 L317.40,233.83 L317.55,233.80 L317.70,233.77 L317.85,233.73 L318.00,233.70 L318.15,233.67 L318.30,233.64 L318.45,233.62 L318.60,233.59 L318.75,233.56 L318.90,233.54 L319.05,233.51 L319.20,233.49 L319.35,233.47 L319.50,233.45 L319.65,233.43 L319.80,233.41 L319.95,233.39 L320.10,233.37 L320.25,233.36 L320.40,233.34 L320.55,233.33 L320.70,233.31 L320.85,233.30 L321.00,233.29 L321.15,233.28 L321.30,233.27 L321.45,233.26 L321.60,233.25 L321.75,233.24 L321.90,233.23 L322.05,233.23 L322.20,233.22 L322.35,233.21 L322.50,233.21 L322.65,233.21 L322.80,233.20 L322.95,233.20 L323.10,233.20 L323.25,233.20 L323.40,233.20 L323.55,233.20 L323.70,233.20 L323.85,233.20 L324.00,233.21 L324.15,233.21 L324.30,233.22 L324.45,233.22 L324.60,233.23 L324.75,233.23 L324.90,233.24 L325.05,233.25 L325.20,233.25 L325.35,233.26 L325.50,233.27 L325.65,233.28 L325.80,233.29 L325.95,233.31 L326.10,233.32 L326.25,233.33 L326.40,233.34 L326.55,233.36 L326.70,233.37 L326.85,233.39 L327.00,233.40 L327.15,233.42 L327.30,233.44 L327.45,233.45 L327.60,233.47 L327.75,233.49 L327.90,233.51 L328.05,233.53 L328.20,233.55 L328.35,233.57 L328.50,233.59 L328.65,233.61 L328.80,233.64 L328.95,233.66 L329.10,233.68 L329.25,233.71 L329.40,233.73 L329.55,233.76 L329.70,233.78 L329.85,233.81 L330.00,233.84 L330.15,233.87 L330.30,233.89 L330.45,233.92 L330.60,233.95 L330.75,233.98 L330.90,234.01 L331.05,234.04 L331.20,234.08 L331.35,234.11 L331.50,234.14 L331.65,234.17 L331.80,234.21 L331.95,234.24 L332.10,234.28 L332.25,234.31 L332.40,234.35 L332.55,234.39 L332.70,234.42 L332.85,234.46 L333.00,234.50 L333.15,234.54 L333.30,234.58 L333.45,234.62 L333.60,234.66 L333.75,234.70 L333.90,234.74 L334.05,234.78 L334.20,234.83 L334.35,234.87 L334.50,234.92 L334.65,234.96 L334.80,235.00 L334.95,235.05 L335.10,235.10 L335.25,235.14 L335.40,235.19 L335.55,235.24 L335.70,235.29 L335.85,235.34 L336.00,235.39 L336.15,235.44 L336.30,235.49 L336.45,235.54 L336.60,235.59 L336.75,235.64 L336.90,235.70 L337.05,235.75 L337.20,235.81 L337.35,235.86 L337.50,235.92 L337.65,235.97 L337.80,236.03 L337.95,236.09 L338.10,236.15 L338.25,236.20 L338.40,236.26 L338.55,236.32 L338.70,236.39 L338.85,236.45 L339.00,236.51 L339.15,236.57 L339.30,236.63 L339.45,236.70 L339.60,236.76 L339.75,236.83 L339.90,236.89 L340.05,236.96 L340.20,237.03 L340.35,237.10 L340.50,237.17 L340.65,237.24 L340.80,237.31 L340.95,237.38 L341.10,237.45 L341.25,237.52 L341.40,237.59 L341.55,237.67 L341.70,237.74 L341.85,237.82 L342.00,237.89 L342.15,237.97 L342.30,238.05 L342.45,238.13 L342.60,238.21 L342.75,238.29 L342.90,238.37 L343.05,238.45 L343.20,238.53 L343.35,238.62 L343.50,238.70 L343.65,238.79 L343.80,238.87 L343.95,238.96 L344.10,239.05 L344.25,239.14 L344.40,239.23 L344.55,239.32 L344.70,239.41 L344.85,239.50 L345.00,239.60 L345.15,239.69 L345.30,239.79 L345.45,239.88 L345.60,239.98 L345.75,240.08 L345.90,240.18 L346.05,240.28 L346.20,240.38 L346.35,240.49 L346.50,240.59 L346.65,240.70 L346.80,240.80 L346.95,240.91 L347.10,241.02 L347.25,241.13 L347.40,241.24 L347.55,241.36 L347.70,241.47 L347.85,241.59 L348.00,241.71 L348.15,241.83 L348.30,241.95 L348.45,242.07 L348.60,242.19 L348.75,242.32 L348.90,242.44 L349.05,242.57 L349.20,242.70 L349.35,242.84 L349.50,242.97 L349.65,243.10 L349.80,243.24 L349.95,243.38 L350.10,243.52 L350.25,243.67 L350.40,243.81 L350.55,243.96 L350.70,244.11 L350.85,244.26 L351.00,244.42 L351.15,244.57 L351.30,244.73 L351.45,244.89 L351.60,245.06 L351.75,245.23 L351.90,245.40 L352.05,245.57 L352.20,245.75 L352.35,245.93 L352.50,246.11 L352.65,246.29 L352.80,246.48 L352.95,246.68 L353.10,246.87 L353.25,247.08 L353.40,247.28 L353.55,247.49 L353.70,247.71 L353.85,247.92 L354.00,248.15 L354.15,248.38 L354.30,248.61 L354.45,248.85 L354.60,249.10 L354.75,249.35 L354.90,249.61 L355.05,249.88 L355.20,250.16 L355.35,250.44 L355.50,250.73 L355.65,251.03 L355.80,251.35 L355.95,251.67 L356.10,252.00 L356.25,252.35 L356.40,252.71 L356.55,253.08 L356.70,253.47 L356.85,253.88 L357.00,254.30 L357.15,254.75 L357.30,255.22 L357.45,255.72 L357.60,256.25 L357.75,256.81 L357.90,257.41 L358.05,258.05 L358.20,258.75 L358.35,259.51 L358.50,260.34 L358.65,261.26 L358.80,262.30 L358.95,263.48 L359.10,264.86 L359.25,266.53 L359.40,268.62 L359.55,271.45 L359.70,275.88 L359.85,286.79 L359.90,307.50 L360.05,277.53 L360.20,272.12 L360.35,268.97 L360.50,266.74 L360.65,265.01 L360.80,263.61 L360.95,262.43 L361.10,261.41 L361.25,260.52 L361.40,259.72 L361.55,259.01 L361.70,258.35 L361.85,257.75 L362.00,257.20 L362.15,256.69 L362.30,256.22 L362.45,255.77 L362.60,255.36 L362.75,254.96 L362.90,254.59 L363.05,254.24 L363.20,253.91 L363.35,253.59 L363.50,253.29 L363.65,253.00 L363.80,252.73 L363.95,252.46 L364.10,252.21 L364.25,251.97 L364.40,251.74 L364.55,251.51 L364.70,251.30 L364.85,251.09 L365.00,250.89 L365.15,250.70 L365.30,250.51 L365.45,250.33 L365.60,250.16 L365.75,249.99 L365.90,249.82 L366.05,249.67 L366.20,249.51 L366.35,249.36 L366.50,249.22 L366.65,249.08 L366.80,248.94 L366.95,248.81 L367.10,248.68 L367.25,248.56 L367.40,248.44 L367.55,248.32 L367.70,248.20 L367.85,248.09 L368.00,247.98 L368.15,247.88 L368.30,247.77 L368.45,247.67 L368.60,247.58 L368.75,247.48 L368.90,247.39 L369.05,247.30 L369.20,247.21 L369.35,247.12 L369.50,247.04 L369.65,246.96 L369.80,246.88 L369.95,246.80 L370.10,246.72 L370.25,246.65 L370.40,246.58 L370.55,246.51 L370.70,246.44 L370.85,246.37 L371.00,246.31 L371.15,246.24 L371.30,246.18 L371.45,246.12 L371.60,246.06 L371.75,246.01 L371.90,245.95 L372.05,245.89 L372.20,245.84 L372.35,245.79 L372.50,245.74 L372.65,245.69 L372.80,245.64 L372.95,245.60 L373.10,245.55 L373.25,245.51 L373.40,245.46 L373.55,245.42 L373.70,245.38 L373.85,245.34 L374.00,245.30 L374.15,245.27 L374.30,245.23 L374.45,245.19 L374.60,245.16 L374.75,245.13 L374.90,245.10 L375.05,245.06 L375.20,245.03 L375.35,245.00 L375.50,244.98 L375.65,244.95 L375.80,244.92 L375.95,244.90 L376.10,244.87 L376.25,244.85 L376.40,244.83 L376.55,244.80 L376.70,244.78 L376.85,244.76 L377.00,244.74 L377.15,244.72 L377.30,244.71 L377.45,244.69 L377.60,244.67 L377.75,244.66 L377.90,244.64 L378.05,244.63 L378.20,244.62 L378.35,244.60 L378.50,244.59 L378.65,244.58 L378.80,244.57 L378.95,244.56 L379.10,244.55 L379.25,244.54 L379.40,244.54 L379.55,244.53 L379.70,244.52 L379.85,244.52 L380.00,244.51 L380.15,244.51 L380.30,244.51 L380.45,244.50 L380.60,244.50 L380.75,244.50 L380.90,244.50 L381.05,244.50 L381.20,244.50 L381.35,244.50 L381.50,244.50 L381.65,244.51 L381.80,244.51 L381.95,244.51 L382.10,244.52 L382.25,244.52 L382.40,244.53 L382.55,244.53 L382.70,244.54 L382.85,244.55 L383.00,244.55 L383.15,244.56 L383.30,244.57 L383.45,244.58 L383.60,244.59 L383.75,244.60 L383.90,244.61 L384.05,244.63 L384.20,244.64 L384.35,244.65 L384.50,244.66 L384.65,244.68 L384.80,244.69 L384.95,244.71 L385.10,244.72 L385.25,244.74 L385.40,244.76 L385.55,244.77 L385.70,244.79 L385.85,244.81 L386.00,244.83 L386.15,244.85 L386.30,244.87 L386.45,244.89 L386.60,244.91 L386.75,244.93 L386.90,244.96 L387.05,244.98 L387.20,245.00 L387.35,245.03 L387.50,245.05 L387.65,245.08 L387.80,245.10 L387.95,245.13 L388.10,245.15 L388.25,245.18 L388.40,245.21 L388.55,245.24 L388.70,245.27 L388.85,245.29 L389.00,245.32 L389.15,245.35 L389.30,245.39 L389.45,245.42 L389.60,245.45 L389.75,245.48 L389.90,245.51 L390.05,245.55 L390.20,245.58 L390.35,245.62 L390.50,245.65 L390.65,245.69 L390.80,245.72 L390.95,245.76 L391.10,245.80 L391.25,245.83 L391.40,245.87 L391.55,245.91 L391.70,245.95 L391.85,245.99 L392.00,246.03 L392.15,246.07 L392.30,246.11 L392.45,246.16 L392.60,246.20 L392.75,246.24 L392.90,246.29 L393.05,246.33 L393.20,246.38 L393.35,246.42 L393.50,246.47 L393.65,246.51 L393.80,246.56 L393.95,246.61 L394.10,246.66 L394.25,246.71 L394.40,246.76 L394.55,246.81 L394.70,246.86 L394.85,246.91 L395.00,246.96 L395.15,247.01 L395.30,247.07 L395.45,247.12 L395.60,247.18 L395.75,247.23 L395.90,247.29 L396.05,247.34 L396.20,247.40 L396.35,247.46 L396.50,247.52 L396.65,247.58 L396.80,247.64 L396.95,247.70 L397.10,247.76 L397.25,247.82 L397.40,247.88 L397.55,247.94 L397.70,248.01 L397.85,248.07 L398.00,248.14 L398.15,248.20 L398.30,248.27 L398.45,248.34 L398.60,248.40 L398.75,248.47 L398.90,248.54 L399.05,248.61 L399.20,248.68 L399.35,248.75 L399.50,248.83 L399.65,248.90 L399.80,248.97 L399.95,249.05 L400.10,249.13 L400.25,249.20 L400.40,249.28 L400.55,249.36 L400.70,249.44 L400.85,249.52 L401.00,249.60 L401.15,249.68 L401.30,249.76 L401.45,249.84 L401.60,249.93 L401.75,250.01 L401.90,250.10 L402.05,250.19 L402.20,250.28 L402.35,250.37 L402.50,250.46 L402.65,250.55 L402.80,250.64 L402.95,250.73 L403.10,250.83 L403.25,250.92 L403.40,251.02 L403.55,251.12 L403.70,251.22 L403.85,251.32 L404.00,251.42 L404.15,251.52 L404.30,251.63 L404.45,251.73 L404.60,251.84 L404.75,251.94 L404.90,252.05 L405.05,252.16 L405.20,252.28 L405.35,252.39 L405.50,252.50 L405.65,252.62 L405.80,252.74 L405.95,252.86 L406.10,252.98 L406.25,253.10 L406.40,253.23 L406.55,253.35 L406.70,253.48 L406.85,253.61 L407.00,253.74 L407.15,253.88 L407.30,254.01 L407.45,254.15 L407.60,254.29 L407.75,254.43 L407.90,254.57 L408.05,254.72 L408.20,254.87 L408.35,255.02 L408.50,255.17 L408.65,255.33 L408.80,255.49 L408.95,255.65 L409.10,255.81 L409.25,255.98 L409.40,256.15 L409.55,256.33 L409.70,256.50 L409.85,256.68 L410.00,256.87 L410.15,257.05 L410.30,257.24 L410.45,257.44 L410.60,257.64 L410.75,257.84 L410.90,258.05 L411.05,258.26 L411.20,258.48 L411.35,258.71 L411.50,258.94 L411.65,259.17 L411.80,259.41 L411.95,259.66 L412.10,259.91 L412.25,260.17 L412.40,260.44 L412.55,260.72 L412.70,261.01 L412.85,261.30 L413.00,261.61 L413.15,261.92 L413.30,262.25 L413.45,262.59 L413.60,262.94 L413.75,263.31 L413.90,263.70 L414.05,264.10 L414.20,264.52 L414.35,264.96 L414.50,265.42 L414.65,265.92 L414.80,266.44 L414.95,266.99 L415.10,267.59 L415.25,268.22 L415.40,268.91 L415.55,269.66 L415.70,270.49 L415.85,271.41 L416.00,272.44 L416.15,273.61 L416.30,274.99 L416.45,276.65 L416.60,278.73 L416.75,281.56 L416.90,285.98 L417.05,296.89 L417.10,339.90 L417.25,288.73 L417.40,283.32 L417.55,280.17 L417.70,277.95 L417.85,276.23 L418.00,274.83 L418.15,273.65 L418.30,272.64 L418.45,271.74 L418.60,270.95 L418.75,270.23 L418.90,269.58 L419.05,268.99 L419.20,268.44 L419.35,267.93 L419.50,267.46 L419.65,267.02 L419.80,266.61 L419.95,266.22 L420.10,265.85 L420.25,265.50 L420.40,265.17 L420.55,264.86 L420.70,264.56 L420.85,264.27 L421.00,264.00 L421.15,263.74 L421.30,263.49 L421.45,263.25 L421.60,263.02 L421.75,262.80 L421.90,262.59 L422.05,262.38 L422.20,262.19 L422.35,262.00 L422.50,261.81 L422.65,261.63 L422.80,261.46 L422.95,261.30 L423.10,261.14 L423.25,260.98 L423.40,260.83 L423.55,260.68 L423.70,260.54 L423.85,260.41 L424.00,260.27 L424.15,260.14 L424.30,260.02 L424.45,259.90 L424.60,259.78 L424.75,259.66 L424.90,259.55 L425.05,259.44 L425.20,259.34 L425.35,259.23 L425.50,259.13 L425.65,259.03 L425.80,258.94 L425.95,258.85 L426.10,258.76 L426.25,258.67 L426.40,258.58 L426.55,258.50 L426.70,258.42 L426.85,258.34 L427.00,258.26 L427.15,258.19 L427.30,258.12 L427.45,258.05 L427.60,257.98 L427.75,257.91 L427.90,257.84 L428.05,257.78 L428.20,257.72 L428.35,257.66 L428.50,257.60 L428.65,257.54 L428.80,257.48 L428.95,257.43 L429.10,257.38 L429.25,257.32 L429.40,257.27 L429.55,257.23 L429.70,257.18 L429.85,257.13 L430.00,257.09 L430.15,257.04 L430.30,257.00 L430.45,256.96 L430.60,256.92 L430.75,256.88 L430.90,256.84 L431.05,256.81 L431.20,256.77 L431.35,256.74 L431.50,256.70 L431.65,256.67 L431.80,256.64 L431.95,256.61 L432.10,256.58 L432.25,256.55 L432.40,256.53 L432.55,256.50 L432.70,256.47 L432.85,256.45 L433.00,256.43 L433.15,256.40 L433.30,256.38 L433.45,256.36 L433.60,256.34 L433.75,256.32 L433.90,256.30 L434.05,256.29 L434.20,256.27 L434.35,256.25 L434.50,256.24 L434.65,256.23 L434.80,256.21 L434.95,256.20 L435.10,256.19 L435.25,256.18 L435.40,256.17 L435.55,256.16 L435.70,256.15 L435.85,256.14 L436.00,256.13 L436.15,256.13 L436.30,256.12 L436.45,256.12 L436.60,256.11 L436.75,256.11 L436.90,256.11 L437.05,256.10 L437.20,256.10 L437.35,256.10 L437.50,256.10 L437.65,256.10 L437.80,256.10 L437.95,256.10 L438.10,256.11 L438.25,256.11 L438.40,256.11 L438.55,256.12 L438.70,256.12 L438.85,256.13 L439.00,256.13 L439.15,256.14 L439.30,256.15 L439.45,256.15 L439.60,256.16 L439.75,256.17 L439.90,256.18 L440.05,256.19 L440.20,256.20 L440.35,256.21 L440.50,256.23 L440.65,256.24 L440.80,256.25 L440.95,256.27 L441.10,256.28 L441.25,256.29 L441.40,256.31 L441.55,256.33 L441.70,256.34 L441.85,256.36 L442.00,256.38 L442.15,256.40 L442.30,256.41 L442.45,256.43 L442.60,256.45 L442.75,256.47 L442.90,256.50 L443.05,256.52 L443.20,256.54 L443.35,256.56 L443.50,256.59 L443.65,256.61 L443.80,256.63 L443.95,256.66 L444.10,256.68 L444.25,256.71 L444.40,256.74 L444.55,256.76 L444.70,256.79 L444.85,256.82 L445.00,256.85 L445.15,256.88 L445.30,256.91 L445.45,256.94 L445.60,256.97 L445.75,257.00 L445.90,257.03 L446.05,257.06 L446.20,257.10 L446.35,257.13 L446.50,257.16 L446.65,257.20 L446.80,257.23 L446.95,257.27 L447.10,257.30 L447.25,257.34 L447.40,257.38 L447.55,257.42 L447.70,257.45 L447.85,257.49 L448.00,257.53 L448.15,257.57 L448.30,257.61 L448.45,257.65 L448.60,257.70 L448.75,257.74 L448.90,257.78 L449.05,257.82 L449.20,257.87 L449.35,257.91 L449.50,257.96 L449.65,258.00 L449.80,258.05 L449.95,258.10 L450.10,258.14 L450.25,258.19 L450.40,258.24 L450.55,258.29 L450.70,258.34 L450.85,258.39 L451.00,258.44 L451.15,258.49 L451.30,258.54 L451.45,258.59 L451.60,258.65 L451.75,258.70 L451.90,258.75 L452.05,258.81 L452.20,258.87 L452.35,258.92 L452.50,258.98 L452.65,259.04 L452.80,259.09 L452.95,259.15 L453.10,259.21 L453.25,259.27 L453.40,259.33 L453.55,259.39 L453.70,259.45 L453.85,259.52 L454.00,259.58 L454.15,259.64 L454.30,259.71 L454.45,259.77 L454.60,259.84 L454.75,259.91 L454.90,259.97 L455.05,260.04 L455.20,260.11 L455.35,260.18 L455.50,260.25 L455.65,260.32 L455.80,260.39 L455.95,260.46 L456.10,260.54 L456.25,260.61 L456.40,260.68 L456.55,260.76 L456.70,260.84 L456.85,260.91 L457.00,260.99 L457.15,261.07 L457.30,261.15 L457.45,261.23 L457.60,261.31 L457.75,261.39 L457.90,261.48 L458.05,261.56 L458.20,261.64 L458.35,261.73 L458.50,261.82 L458.65,261.90 L458.80,261.99 L458.95,262.08 L459.10,262.17 L459.25,262.26 L459.40,262.35 L459.55,262.45 L459.70,262.54 L459.85,262.64 L460.00,262.73 L460.15,262.83 L460.30,262.93 L460.45,263.03 L460.60,263.13 L460.75,263.23 L460.90,263.34 L461.05,263.44 L461.20,263.55 L461.35,263.65 L461.50,263.76 L461.65,263.87 L461.80,263.98 L461.95,264.10 L462.10,264.21 L462.25,264.32 L462.40,264.44 L462.55,264.56 L462.70,264.68 L462.85,264.80 L463.00,264.92 L463.15,265.05 L463.30,265.17 L463.45,265.30 L463.60,265.43 L463.75,265.56 L463.90,265.69 L464.05,265.83 L464.20,265.97 L464.35,266.10 L464.50,266.25 L464.65,266.39 L464.80,266.53 L464.95,266.68 L465.10,266.83 L465.25,266.98 L465.40,267.14 L465.55,267.30 L465.70,267.45 L465.85,267.62 L466.00,267.78 L466.15,267.95 L466.30,268.12 L466.45,268.30 L466.60,268.47 L466.75,268.65 L466.90,268.84 L467.05,269.03 L467.20,269.22 L467.35,269.41 L467.50,269.61 L467.65,269.82 L467.80,270.02 L467.95,270.24 L468.10,270.45 L468.25,270.68 L468.40,270.90 L468.55,271.14 L468.70,271.38 L468.85,271.62 L469.00,271.88 L469.15,272.13 L469.30,272.40 L469.45,272.68 L469.60,272.96 L469.75,273.25 L469.90,273.55 L470.05,273.86 L470.20,274.19 L470.35,274.52 L470.50,274.87 L470.65,275.23 L470.80,275.60 L470.95,276.00 L471.10,276.41 L471.25,276.84 L471.40,277.29 L471.55,277.77 L471.70,278.27 L471.85,278.80 L472.00,279.37 L472.15,279.98 L472.30,280.64 L472.45,281.35 L472.60,282.13 L472.75,282.99 L472.90,283.94 L473.05,285.02 L473.20,286.26 L473.35,287.72 L473.50,289.50 L473.65,291.79 L473.80,295.00 L473.95,300.47 L474.10,324.90 L474.25,299.04 L474.40,293.64 L474.55,290.49 L474.70,288.26 L474.85,286.55 L475.00,285.15 L475.15,283.97 L475.30,282.96 L475.45,282.07 L475.60,281.28 L475.75,280.57 L475.90,279.92 L476.05,279.33 L476.20,278.78 L476.35,278.27 L476.50,277.80 L476.65,277.36 L476.80,276.95 L476.95,276.56 L477.10,276.20 L477.25,275.85 L477.40,275.52 L477.55,275.21 L477.70,274.92 L477.85,274.63 L478.00,274.36 L478.15,274.10 L478.30,273.86 L478.45,273.62 L478.60,273.39 L478.75,273.17 L478.90,272.96 L479.05,272.76 L479.20,272.57 L479.35,272.38 L479.50,272.20 L479.65,272.02 L479.80,271.85 L479.95,271.69 L480.10,271.53 L480.25,271.38 L480.40,271.23 L480.55,271.08 L480.70,270.95 L480.85,270.81 L481.00,270.68 L481.15,270.55 L481.30,270.43 L481.45,270.31 L481.60,270.19 L481.75,270.08 L481.90,269.97 L482.05,269.86 L482.20,269.76 L482.35,269.66 L482.50,269.56 L482.65,269.46 L482.80,269.37 L482.95,269.28 L483.10,269.19 L483.25,269.11 L483.40,269.02 L483.55,268.94 L483.70,268.87 L483.85,268.79 L484.00,268.71 L484.15,268.64 L484.30,268.57 L484.45,268.50 L484.60,268.43 L484.75,268.37 L484.90,268.31 L485.05,268.24 L485.20,268.18 L485.35,268.13 L485.50,268.07 L485.65,268.01 L485.80,267.96 L485.95,267.91 L486.10,267.86 L486.25,267.81 L486.40,267.76 L486.55,267.71 L486.70,267.67 L486.85,267.62 L487.00,267.58 L487.15,267.54 L487.30,267.50 L487.45,267.46 L487.60,267.42 L487.75,267.39 L487.90,267.35 L488.05,267.32 L488.20,267.28 L488.35,267.25 L488.50,267.22 L488.65,267.19 L488.80,267.16 L488.95,267.13 L489.10,267.11 L489.25,267.08 L489.40,267.05 L489.55,267.03 L489.70,267.01 L489.85,266.98 L490.00,266.96 L490.15,266.94 L490.30,266.92 L490.45,266.91 L490.60,266.89 L490.75,266.87 L490.90,266.85 L491.05,266.84 L491.20,266.83 L491.35,266.81 L491.50,266.80 L491.65,266.79 L491.80,266.78 L491.95,266.77 L492.10,266.76 L492.25,266.75 L492.40,266.74 L492.55,266.73 L492.70,266.73 L492.85,266.72 L493.00,266.72 L493.15,266.71 L493.30,266.71 L493.45,266.70 L493.60,266.70 L493.75,266.70 L493.90,266.70 L494.05,266.70 L494.20,266.70 L494.35,266.70 L494.50,266.70 L494.65,266.71 L494.80,266.71 L494.95,266.71 L495.10,266.72 L495.25,266.72 L495.40,266.73 L495.55,266.74 L495.70,266.74 L495.85,266.75 L496.00,266.76 L496.15,266.77 L496.30,266.78 L496.45,266.79 L496.60,266.80 L496.75,266.81 L496.90,266.82 L497.05,266.83 L497.20,266.85 L497.35,266.86 L497.50,266.87 L497.65,266.89 L497.80,266.90 L497.95,266.92 L498.10,266.94 L498.25,266.95 L498.40,266.97 L498.55,266.99 L498.70,267.01 L498.85,267.03 L499.00,267.05 L499.15,267.07 L499.30,267.09 L499.45,267.11 L499.60,267.13 L499.75,267.16 L499.90,267.18 L500.05,267.20 L500.20,267.23 L500.35,267.25 L500.50,267.28 L500.65,267.31 L500.80,267.33 L500.95,267.36 L501.10,267.39 L501.25,267.42 L501.40,267.44 L501.55,267.47 L501.70,267.50 L501.85,267.53 L502.00,267.56 L502.15,267.60 L502.30,267.63 L502.45,267.66 L502.60,267.69 L502.75,267.73 L502.90,267.76 L503.05,267.80 L503.20,267.83 L503.35,267.87 L503.50,267.90 L503.65,267.94 L503.80,267.98 L503.95,268.02 L504.10,268.05 L504.25,268.09 L504.40,268.13 L504.55,268.17 L504.70,268.21 L504.85,268.25 L505.00,268.30 L505.15,268.34 L505.30,268.38 L505.45,268.43 L505.60,268.47 L505.75,268.51 L505.90,268.56 L506.05,268.60 L506.20,268.65 L506.35,268.70 L506.50,268.74 L506.65,268.79 L506.80,268.84 L506.95,268.89 L507.10,268.94 L507.25,268.99 L507.40,269.04 L507.55,269.09 L507.70,269.14 L507.85,269.20 L508.00,269.25 L508.15,269.30 L508.30,269.36 L508.45,269.41 L508.60,269.47 L508.75,269.52 L508.90,269.58 L509.05,269.64 L509.20,269.69 L509.35,269.75 L509.50,269.81 L509.65,269.87 L509.80,269.93 L509.95,269.99 L510.10,270.06 L510.25,270.12 L510.40,270.18 L510.55,270.24 L510.70,270.31 L510.85,270.37 L511.00,270.44 L511.15,270.51 L511.30,270.57 L511.45,270.64 L511.60,270.71 L511.75,270.78 L511.90,270.85 L512.05,270.92 L512.20,270.99 L512.35,271.06 L512.50,271.13 L512.65,271.21 L512.80,271.28 L512.95,271.36 L513.10,271.43 L513.25,271.51 L513.40,271.58 L513.55,271.66 L513.70,271.74 L513.85,271.82 L514.00,271.90 L514.15,271.98 L514.30,272.06 L514.45,272.15 L514.60,272.23 L514.75,272.32 L514.90,272.40 L515.05,272.49 L515.20,272.57 L515.35,272.66 L515.50,272.75 L515.65,272.84 L515.80,272.93 L515.95,273.03 L516.10,273.12 L516.25,273.21 L516.40,273.31 L516.55,273.40 L516.70,273.50 L516.85,273.60 L517.00,273.70 L517.15,273.80 L517.30,273.90 L517.45,274.00 L517.60,274.11 L517.75,274.21 L517.90,274.32 L518.05,274.42 L518.20,274.53 L518.35,274.64 L518.50,274.75 L518.65,274.87 L518.80,274.98 L518.95,275.10 L519.10,275.21 L519.25,275.33 L519.40,275.45 L519.55,275.57 L519.70,275.69 L519.85,275.82 L520.00,275.94 L520.15,276.07 L520.30,276.20 L520.45,276.33 L520.60,276.47 L520.75,276.60 L520.90,276.74 L521.05,276.87 L521.20,277.02 L521.35,277.16 L521.50,277.30 L521.65,277.45 L521.80,277.60 L521.95,277.75 L522.10,277.90 L522.25,278.06 L522.40,278.22 L522.55,278.38 L522.70,278.54 L522.85,278.71 L523.00,278.88 L523.15,279.05 L523.30,279.22 L523.45,279.40 L523.60,279.58 L523.75,279.77 L523.90,279.96 L524.05,280.15 L524.20,280.35 L524.35,280.55 L524.50,280.75 L524.65,280.96 L524.80,281.17 L524.95,281.39 L525.10,281.61 L525.25,281.84 L525.40,282.07 L525.55,282.31 L525.70,282.56 L525.85,282.81 L526.00,283.07 L526.15,283.34 L526.30,283.61 L526.45,283.89 L526.60,284.18 L526.75,284.48 L526.90,284.79 L527.05,285.12 L527.20,285.45 L527.35,285.79 L527.50,286.15 L527.65,286.52 L527.80,286.91 L527.95,287.32 L528.10,287.74 L528.25,288.19 L528.40,288.66 L528.55,289.16 L528.70,289.68 L528.85,290.24 L529.00,290.84 L529.15,291.48 L529.30,292.18 L529.45,292.94 L529.60,293.77 L529.75,294.69 L529.90,295.72 L530.05,296.90 L530.20,298.28 L530.35,299.95 L530.50,302.04 L530.65,304.87 L530.80,309.29 L530.95,320.21 L531.00,339.60 L531.15,311.22 L531.30,305.81 L531.45,302.66 L531.60,300.43 L531.75,298.71 L531.90,297.31 L532.05,296.14 L532.20,295.12 L532.35,294.23 L532.50,293.43 L532.65,292.72 L532.80,292.07 L532.95,291.47 L533.10,290.92 L533.25,290.42 L533.40,289.94 L533.55,289.50 L533.70,289.09 L533.85,288.69 L534.00,288.33 L534.15,287.98 L534.30,287.65 L534.45,287.33 L534.60,287.03 L534.75,286.75 L534.90,286.48 L535.05,286.21 L535.20,285.96 L535.35,285.72 L535.50,285.49 L535.65,285.27 L535.80,285.06 L535.95,284.85 L536.10,284.66 L536.25,284.47 L536.40,284.28 L536.55,284.10 L536.70,283.93 L536.85,283.77 L537.00,283.60 L537.15,283.45 L537.30,283.30 L537.45,283.15 L537.60,283.01 L537.75,282.87 L537.90,282.74 L538.05,282.61 L538.20,282.48 L538.35,282.36 L538.50,282.24 L538.65,282.12 L538.80,282.01 L538.95,281.90 L539.10,281.80 L539.25,281.69 L539.40,281.59 L539.55,281.49 L539.70,281.40 L539.85,281.30 L540.00,281.21 L540.15,281.12 L540.30,281.04 L540.45,280.96 L540.60,280.87 L540.75,280.79 L540.90,280.72 L541.05,280.64 L541.20,280.57 L541.35,280.50 L541.50,280.43 L541.65,280.36 L541.80,280.29 L541.95,280.23 L542.10,280.16 L542.25,280.10 L542.40,280.04 L542.55,279.99 L542.70,279.93 L542.85,279.87 L543.00,279.82 L543.15,279.77 L543.30,279.72 L543.45,279.67 L543.60,279.62 L543.75,279.57 L543.90,279.53 L544.05,279.48 L544.20,279.44 L544.35,279.40 L544.50,279.36 L544.65,279.32 L544.80,279.28 L544.95,279.24 L545.10,279.21 L545.25,279.17 L545.40,279.14 L545.55,279.10 L545.70,279.07 L545.85,279.04 L546.00,279.01 L546.15,278.98 L546.30,278.95 L546.45,278.93 L546.60,278.90 L546.75,278.88 L546.90,278.85 L547.05,278.83 L547.20,278.81 L547.35,278.78 L547.50,278.76 L547.65,278.74 L547.80,278.72 L547.95,278.71 L548.10,278.69 L548.25,278.67 L548.40,278.66 L548.55,278.64 L548.70,278.63 L548.85,278.61 L549.00,278.60 L549.15,278.59 L549.30,278.58 L549.45,278.57 L549.60,278.56 L549.75,278.55 L549.90,278.54 L550.05,278.54 L550.20,278.53 L550.35,278.52 L550.50,278.52 L550.65,278.51 L550.80,278.51 L550.95,278.51 L551.10,278.50 L551.25,278.50 L551.40,278.50 L551.55,278.50 L551.70,278.50 L551.85,278.50 L552.00,278.50 L552.15,278.50 L552.30,278.51 L552.45,278.51 L552.60,278.51 L552.75,278.52 L552.90,278.52 L553.05,278.53 L553.20,278.54 L553.35,278.54 L553.50,278.55 L553.65,278.56 L553.80,278.57 L553.95,278.58 L554.10,278.59 L554.25,278.60 L554.40,278.61 L554.55,278.62 L554.70,278.63 L554.85,278.64 L555.00,278.66 L555.15,278.67 L555.30,278.69 L555.45,278.70 L555.60,278.72 L555.75,278.73 L555.90,278.75 L556.05,278.77 L556.20,278.79 L556.35,278.80 L556.50,278.82 L556.65,278.84 L556.80,278.86 L556.95,278.88 L557.10,278.90 L557.25,278.93 L557.40,278.95 L557.55,278.97 L557.70,278.99 L557.85,279.02 L558.00,279.04 L558.15,279.07 L558.30,279.09 L558.45,279.12 L558.60,279.14 L558.75,279.17 L558.90,279.20 L559.05,279.23 L559.20,279.26 L559.35,279.28 L559.50,279.31 L559.65,279.34 L559.80,279.37 L559.95,279.41 L560.10,279.44 L560.25,279.47 L560.40,279.50 L560.55,279.54 L560.70,279.57 L560.85,279.60 L561.00,279.64 L561.15,279.67 L561.30,279.71 L561.45,279.75 L561.60,279.78 L561.75,279.82 L561.90,279.86 L562.05,279.90 L562.20,279.94 L562.35,279.98 L562.50,280.02 L562.65,280.06 L562.80,280.10 L562.95,280.14 L563.10,280.18 L563.25,280.23 L563.40,280.27 L563.55,280.31 L563.70,280.36 L563.85,280.40 L564.00,280.45 L564.15,280.50 L564.30,280.54 L564.45,280.59 L564.60,280.64 L564.75,280.69 L564.90,280.74 L565.05,280.79 L565.20,280.84 L565.35,280.89 L565.50,280.94 L565.65,280.99 L565.80,281.04 L565.95,281.10 L566.10,281.15 L566.25,281.21 L566.40,281.26 L566.55,281.32 L566.70,281.37 L566.85,281.43 L567.00,281.49 L567.15,281.54 L567.30,281.60 L567.45,281.66 L567.60,281.72 L567.75,281.78 L567.90,281.85 L568.05,281.91 L568.20,281.97 L568.35,282.03 L568.50,282.10 L568.65,282.16 L568.80,282.23 L568.95,282.29 L569.10,282.36 L569.25,282.43 L569.40,282.49 L569.55,282.56 L569.70,282.63 L569.85,282.70 L570.00,282.77 L570.15,282.85 L570.30,282.92 L570.45,282.99 L570.60,283.07 L570.75,283.14 L570.90,283.22 L571.05,283.29 L571.20,283.37 L571.35,283.45 L571.50,283.53 L571.65,283.61 L571.80,283.69 L571.95,283.77 L572.10,283.85 L572.25,283.93 L572.40,284.02 L572.55,284.10 L572.70,284.19 L572.85,284.27 L573.00,284.36 L573.15,284.45 L573.30,284.54 L573.45,284.63 L573.60,284.72 L573.75,284.81 L573.90,284.91 L574.05,285.00 L574.20,285.10 L574.35,285.19 L574.50,285.29 L574.65,285.39 L574.80,285.49 L574.95,285.59 L575.10,285.69 L575.25,285.80 L575.40,285.90 L575.55,286.01 L575.70,286.11 L575.85,286.22 L576.00,286.33 L576.15,286.44 L576.30,286.56 L576.45,286.67 L576.60,286.79 L576.75,286.90 L576.90,287.02 L577.05,287.14 L577.20,287.26 L577.35,287.38 L577.50,287.51 L577.65,287.64 L577.80,287.76 L577.95,287.89 L578.10,288.03 L578.25,288.16 L578.40,288.29 L578.55,288.43 L578.70,288.57 L578.85,288.71 L579.00,288.86 L579.15,289.00 L579.30,289.15 L579.45,289.30 L579.60,289.45 L579.75,289.61 L579.90,289.76 L580.05,289.92 L580.20,290.09 L580.35,290.25 L580.50,290.42 L580.65,290.59 L580.80,290.77 L580.95,290.95 L581.10,291.13 L581.25,291.31 L581.40,291.50 L581.55,291.69 L581.70,291.89 L581.85,292.09 L582.00,292.30 L582.15,292.51 L582.30,292.72 L582.45,292.94 L582.60,293.16 L582.75,293.39 L582.90,293.63 L583.05,293.87 L583.20,294.12 L583.35,294.37 L583.50,294.63 L583.65,294.90 L583.80,295.18 L583.95,295.46 L584.10,295.76 L584.25,296.06 L584.40,296.38 L584.55,296.70 L584.70,297.04 L584.85,297.39 L585.00,297.76 L585.15,298.14 L585.30,298.53 L585.45,298.95 L585.60,299.39 L585.75,299.85 L585.90,300.33 L586.05,300.84 L586.20,301.39 L586.35,301.97 L586.50,302.60 L586.65,303.27 L586.80,304.00 L586.95,304.80 L587.10,305.69 L587.25,306.68 L587.40,307.81 L587.55,309.11 L587.70,310.67 L587.85,312.59 L588.00,315.12 L588.15,318.84 L588.30,326.06 L588.40,359.00 L588.55,322.91 L588.70,317.50 L588.85,314.35 L589.00,312.13 L589.15,310.41 L589.30,309.01 L589.45,307.83 L589.60,306.81 L589.75,305.92 L589.90,305.13 L590.05,304.41 L590.20,303.76 L590.35,303.17 L590.50,302.62 L590.65,302.11 L590.80,301.64 L590.95,301.19 L591.10,300.78 L591.25,300.39 L591.40,300.02 L591.55,299.67 L591.70,299.34 L591.85,299.03 L592.00,298.73 L592.15,298.44 L592.30,298.17 L592.45,297.91 L592.60,297.66 L592.75,297.42 L592.90,297.19 L593.05,296.97 L593.20,296.76 L593.35,296.55 L593.50,296.35 L593.65,296.16 L593.80,295.98 L593.95,295.80 L594.10,295.63 L594.25,295.46 L594.40,295.30 L594.55,295.14 L594.70,294.99 L594.85,294.85 L595.00,294.71 L595.15,294.57 L595.30,294.43 L595.45,294.30 L595.60,294.18 L595.75,294.06 L595.90,293.94 L596.05,293.82 L596.20,293.71 L596.35,293.60 L596.50,293.49 L596.65,293.39 L596.80,293.29 L596.95,293.19 L597.10,293.09 L597.25,293.00 L597.40,292.91 L597.55,292.82 L597.70,292.74 L597.85,292.65 L598.00,292.57 L598.15,292.49 L598.30,292.41 L598.45,292.34 L598.60,292.27 L598.75,292.19 L598.90,292.12 L599.05,292.06 L599.20,291.99 L599.35,291.93 L599.50,291.86 L599.65,291.80 L599.80,291.74 L599.95,291.68 L600.10,291.63 L600.25,291.57 L600.40,291.52 L600.55,291.47 L600.70,291.42 L600.85,291.37 L601.00,291.32 L601.15,291.27 L601.30,291.23 L601.45,291.18 L601.60,291.14 L601.75,291.10 L601.90,291.06 L602.05,291.02 L602.20,290.98 L602.35,290.94 L602.50,290.90 L602.65,290.87 L602.80,290.84 L602.95,290.80 L603.10,290.77 L603.25,290.74 L603.40,290.71 L603.55,290.68 L603.70,290.65 L603.85,290.63 L604.00,290.60 L604.15,290.57 L604.30,290.55 L604.45,290.53 L604.60,290.51 L604.75,290.48 L604.90,290.46 L605.05,290.44 L605.20,290.42 L605.35,290.41 L605.50,290.39 L605.65,290.37 L605.80,290.36 L605.95,290.34 L606.10,290.33 L606.25,290.31 L606.40,290.30 L606.55,290.29 L606.70,290.28 L606.85,290.27 L607.00,290.26 L607.15,290.25 L607.30,290.24 L607.45,290.24 L607.60,290.23 L607.75,290.22 L607.90,290.22 L608.05,290.21 L608.20,290.21 L608.35,290.21 L608.50,290.20 L608.65,290.20 L608.80,290.20 L608.95,290.20 L609.10,290.20 L609.25,290.20 L609.40,290.20 L609.55,290.20 L609.70,290.21 L609.85,290.21 L610.00,290.21 L610.15,290.22 L610.30,290.22 L610.45,290.23 L610.60,290.24 L610.75,290.24 L610.90,290.25 L611.05,290.26 L611.20,290.27 L611.35,290.28 L611.50,290.29 L611.65,290.30 L611.80,290.31 L611.95,290.32 L612.10,290.33 L612.25,290.34 L612.40,290.36 L612.55,290.37 L612.70,290.39 L612.85,290.40 L613.00,290.42 L613.15,290.43 L613.30,290.45 L613.45,290.47 L613.60,290.48 L613.75,290.50 L613.90,290.52 L614.05,290.54 L614.20,290.56 L614.35,290.58 L614.50,290.60 L614.65,290.62 L614.80,290.65 L614.95,290.67 L615.10,290.69 L615.25,290.72 L615.40,290.74 L615.55,290.77 L615.70,290.79 L615.85,290.82 L616.00,290.84 L616.15,290.87 L616.30,290.90 L616.45,290.93 L616.60,290.95 L616.75,290.98 L616.90,291.01 L617.05,291.04 L617.20,291.07 L617.35,291.10 L617.50,291.14 L617.65,291.17 L617.80,291.20 L617.95,291.23 L618.10,291.27 L618.25,291.30 L618.40,291.34 L618.55,291.37 L618.70,291.41 L618.85,291.44 L619.00,291.48 L619.15,291.52 L619.30,291.56 L619.45,291.60 L619.60,291.63 L619.75,291.67 L619.90,291.71 L620.05,291.75 L620.20,291.80 L620.35,291.84 L620.50,291.88 L620.65,291.92 L620.80,291.97 L620.95,292.01 L621.10,292.06 L621.25,292.10 L621.40,292.15 L621.55,292.19 L621.70,292.24 L621.85,292.29 L622.00,292.33 L622.15,292.38 L622.30,292.43 L622.45,292.48 L622.60,292.53 L622.75,292.58 L622.90,292.63 L623.05,292.68 L623.20,292.74 L623.35,292.79 L623.50,292.84 L623.65,292.90 L623.80,292.95 L623.95,293.01 L624.10,293.06 L624.25,293.12 L624.40,293.18 L624.55,293.24 L624.70,293.30 L624.85,293.35 L625.00,293.41 L625.15,293.47 L625.30,293.54 L625.45,293.60 L625.60,293.66 L625.75,293.72 L625.90,293.79 L626.05,293.85 L626.20,293.92 L626.35,293.98 L626.50,294.05 L626.65,294.11 L626.80,294.18 L626.95,294.25 L627.10,294.32 L627.25,294.39 L627.40,294.46 L627.55,294.53 L627.70,294.60 L627.85,294.68 L628.00,294.75 L628.15,294.83 L628.30,294.90 L628.45,294.98 L628.60,295.05 L628.75,295.13 L628.90,295.21 L629.05,295.29 L629.20,295.37 L629.35,295.45 L629.50,295.53 L629.65,295.61 L629.80,295.70 L629.95,295.78 L630.10,295.87 L630.25,295.95 L630.40,296.04 L630.55,296.13 L630.70,296.22 L630.85,296.31 L631.00,296.40 L631.15,296.49 L631.30,296.58 L631.45,296.68 L631.60,296.77 L631.75,296.87 L631.90,296.96 L632.05,297.06 L632.20,297.16 L632.35,297.26 L632.50,297.36 L632.65,297.47 L632.80,297.57 L632.95,297.68 L633.10,297.78 L633.25,297.89 L633.40,298.00 L633.55,298.11 L633.70,298.22 L633.85,298.34 L634.00,298.45 L634.15,298.57 L634.30,298.68 L634.45,298.80 L634.60,298.92 L634.75,299.05 L634.90,299.17 L635.05,299.29 L635.20,299.42 L635.35,299.55 L635.50,299.68 L635.65,299.81 L635.80,299.95 L635.95,300.08 L636.10,300.22 L636.25,300.36 L636.40,300.50 L636.55,300.65 L636.70,300.79 L636.85,300.94 L637.00,301.09 L637.15,301.25 L637.30,301.40 L637.45,301.56 L637.60,301.72 L637.75,301.89 L637.90,302.06 L638.05,302.22 L638.20,302.40 L638.35,302.57 L638.50,302.75 L638.65,302.94 L638.80,303.12 L638.95,303.31 L639.10,303.51 L639.25,303.70 L639.40,303.91 L639.55,304.11 L639.70,304.32 L639.85,304.54 L640.00,304.76 L640.15,304.99 L640.30,305.22 L640.45,305.45 L640.60,305.70 L640.75,305.95 L640.90,306.20 L641.05,306.47 L641.20,306.74 L641.35,307.02 L641.50,307.31 L641.65,307.61 L641.80,307.91 L641.95,308.23 L642.10,308.56 L642.25,308.90 L642.40,309.26 L642.55,309.63 L642.70,310.02 L642.85,310.42 L643.00,310.84 L643.15,311.29 L643.30,311.76 L643.45,312.25 L643.60,312.77 L643.75,313.33 L643.90,313.93 L644.05,314.57 L644.20,315.26 L644.35,316.01 L644.50,316.84 L644.65,317.76 L644.80,318.79 L644.95,319.97 L645.10,321.35 L645.25,323.01 L645.40,325.10 L645.55,327.93 L645.70,332.35 L645.85,343.26 L645.90,358.10 L646.05,334.14 L646.20,328.73 L646.35,325.58 L646.50,323.36 L646.65,321.64 L646.80,320.24 L646.95,319.06 L647.10,318.04 L647.25,317.15 L647.40,316.35 L647.55,315.64 L647.70,314.99 L647.85,314.39 L648.00,313.84 L648.15,313.33 L648.30,312.86 L648.45,312.42 L648.60,312.00 L648.75,311.61 L648.90,311.24 L649.05,310.89 L649.20,310.56 L649.35,310.25 L649.50,309.95 L649.65,309.66 L649.80,309.39 L649.95,309.13 L650.10,308.88 L650.25,308.64 L650.40,308.41 L650.55,308.19 L650.70,307.97 L650.85,307.77 L651.00,307.57 L651.15,307.38 L651.30,307.20 L651.45,307.02 L651.60,306.85 L651.75,306.68 L651.90,306.52 L652.05,306.36 L652.20,306.21 L652.35,306.06 L652.50,305.92 L652.65,305.78 L652.80,305.65 L652.95,305.52 L653.10,305.39 L653.25,305.27 L653.40,305.15 L653.55,305.03 L653.70,304.92 L653.85,304.81 L654.00,304.70 L654.15,304.60 L654.30,304.50 L654.45,304.40 L654.60,304.31 L654.75,304.21 L654.90,304.12 L655.05,304.03 L655.20,303.95 L655.35,303.86 L655.50,303.78 L655.65,303.70 L655.80,303.62 L655.95,303.55 L656.10,303.47 L656.25,303.40 L656.40,303.33 L656.55,303.26 L656.70,303.20 L656.85,303.13 L657.00,303.07 L657.15,303.01 L657.30,302.95 L657.45,302.89 L657.60,302.83 L657.75,302.78 L657.90,302.72 L658.05,302.67 L658.20,302.62 L658.35,302.57 L658.50,302.52 L658.65,302.48 L658.80,302.43 L658.95,302.39 L659.10,302.34 L659.25,302.30 L659.40,302.26 L659.55,302.22 L659.70,302.18 L659.85,302.14 L660.00,302.11 L660.15,302.07 L660.30,302.04 L660.45,302.01 L660.60,301.97 L660.75,301.94 L660.90,301.91 L661.05,301.88 L661.20,301.86 L661.35,301.83 L661.50,301.80 L661.65,301.78 L661.80,301.75 L661.95,301.73 L662.10,301.71 L662.25,301.69 L662.40,301.66 L662.55,301.64 L662.70,301.63 L662.85,301.61 L663.00,301.59 L663.15,301.57 L663.30,301.56 L663.45,301.54 L663.60,301.53 L663.75,301.52 L663.90,301.50 L664.05,301.49 L664.20,301.48 L664.35,301.47 L664.50,301.46 L664.65,301.45 L664.80,301.44 L664.95,301.44 L665.10,301.43 L665.25,301.42 L665.40,301.42 L665.55,301.41 L665.70,301.41 L665.85,301.41 L666.00,301.40 L666.15,301.40 L666.30,301.40 L666.45,301.40 L666.60,301.40 L666.75,301.40 L666.90,301.40 L667.05,301.40 L667.20,301.41 L667.35,301.41 L667.50,301.41" stroke="#808080"/>
</g>
<g fill="none" stroke="#666666" stroke-width="1.2">
<rect x="73.6" y="2.6" width="606.4" height="375.9"/>
<path d="M85.30,378.5 v-4.5 M85.30,2.6 v4.5 M114.41,378.5 v-2.9 M114.41,2.6 v2.9 M143.52,378.5 v-2.9 M143.52,2.6 v2.9 M172.63,378.5 v-2.9 M172.63,2.6 v2.9 M201.74,378.5 v-2.9 M201.74,2.6 v2.9 M230.85,378.5 v-4.5 M230.85,2.6 v4.5 M259.96,378.5 v-2.9 M259.96,2.6 v2.9 M289.07,378.5 v-2.9 M289.07,2.6 v2.9 M318.18,378.5 v-2.9 M318.18,2.6 v2.9 M347.29,378.5 v-2.9 M347.29,2.6 v2.9 M376.40,378.5 v-4.5 M376.40,2.6 v4.5 M405.51,378.5 v-2.9 M405.51,2.6 v2.9 M434.62,378.5 v-2.9 M434.62,2.6 v2.9 M463.73,378.5 v-2.9 M463.73,2.6 v2.9 M492.84,378.5 v-2.9 M492.84,2.6 v2.9 M521.95,378.5 v-4.5 M521.95,2.6 v4.5 M551.06,378.5 v-2.9 M551.06,2.6 v2.9 M580.17,378.5 v-2.9 M580.17,2.6 v2.9 M609.28,378.5 v-2.9 M609.28,2.6 v2.9 M638.39,378.5 v-2.9 M638.39,2.6 v2.9 M667.50,378.5 v-4.5 M667.50,2.6 v4.5 M73.6,376.70 h3.5 M680.0,376.70 h-4.7 M73.6,358.63 h2.3 M680.0,358.63 h-3.3 M73.6,340.56 h2.3 M680.0,340.56 h-3.3 M73.6,322.49 h2.3 M680.0,322.49 h-3.3 M73.6,304.42 h2.3 M680.0,304.42 h-3.3 M73.6,286.35 h3.5 M680.0,286.35 h-4.7 M73.6,268.28 h2.3 M680.0,268.28 h-3.3 M73.6,250.21 h2.3 M680.0,250.21 h-3.3 M73.6,232.14 h2.3 M680.0,232.14 h-3.3 M73.6,214.07 h2.3 M680.0,214.07 h-3.3 M73.6,196.00 h3.5 M680.0,196.00 h-4.7 M73.6,177.93 h2.3 M680.0,177.93 h-3.3 M73.6,159.86 h2.3 M680.0,159.86 h-3.3 M73.6,141.79 h2.3 M680.0,141.79 h-3.3 M73.6,123.72 h2.3 M680.0,123.72 h-3.3 M73.6,105.65 h3.5 M680.0,105.65 h-4.7 M73.6,87.58 h2.3 M680.0,87.58 h-3.3 M73.6,69.51 h2.3 M680.0,69.51 h-3.3 M73.6,51.44 h2.3 M680.0,51.44 h-3.3 M73.6,33.37 h2.3 M680.0,33.37 h-3.3 M73.6,15.30 h3.5 M680.0,15.30 h-4.7" stroke-width="0.9"/>
</g>
<g class="lg" fill="none">
<path d="M91.0,30.9 H128.0" stroke="#00ff00" stroke-width="3"/>
<text x="139.6" y="38.6" font-size="25">Λ=<tspan dx="0.6" font-size="24.62" textLength="42.04" lengthAdjust="spacingAndGlyphs">0.01</tspan></text>
<path d="M234.5,30.9 H271.5" stroke="#ff8080" stroke-width="3"/>
<text x="283.5" y="38.6" font-size="25">Λ=<tspan dx="0.6" font-size="24.62" textLength="42.04" lengthAdjust="spacingAndGlyphs">0.03</tspan></text>
<path d="M91.0,75.8 H128.0" stroke="#800080" stroke-width="3"/>
<text x="139.6" y="83.5" font-size="25">Λ=<tspan dx="0.6" font-size="24.62" textLength="42.04" lengthAdjust="spacingAndGlyphs">0.05</tspan></text>
<path d="M234.5,75.8 H271.5" stroke="#0000ff" stroke-width="3"/>
<text x="283.5" y="83.5" font-size="25">Λ=<tspan dx="0.6" font-size="24.62" textLength="42.04" lengthAdjust="spacingAndGlyphs">0.08</tspan></text>
<path d="M91.0,120.6 H128.0" stroke="#808080" stroke-width="3"/>
<text x="139.6" y="128.3" font-size="25">Λ=<tspan dx="0.6" font-size="24.62" textLength="30.03" lengthAdjust="spacingAndGlyphs">0.1</tspan></text>
</g>
<g class="tk">
<text transform="translate(84.1,401.8) scale(1,1.045)" text-anchor="middle">0</text>
<text transform="translate(229.7,401.8) scale(1,1.045)" text-anchor="middle">100</text>
<text transform="translate(375.2,401.8) scale(1,1.045)" text-anchor="middle">200</text>
<text transform="translate(520.7,401.8) scale(1,1.045)" text-anchor="middle">300</text>
<text transform="translate(666.3,401.8) scale(1,1.045)" text-anchor="middle">400</text>
<text transform="translate(65.8,21.7) scale(1,1.045)" text-anchor="end">10</text>
<text transform="translate(65.8,112.1) scale(1,1.045)" text-anchor="end">5</text>
<text transform="translate(65.8,202.4) scale(1,1.045)" text-anchor="end">0</text>
<text transform="translate(65.8,292.8) scale(1,1.045)" text-anchor="end">−5</text>
<text transform="translate(65.8,382.7) scale(1,1.045)" text-anchor="end">−10</text>
<text x="374.4" y="432.6" text-anchor="middle" font-size="19">t</text>
<text transform="translate(17.3,234.6) rotate(-90) scale(1,1.075)" font-size="18.4">Log<tspan font-size="16.2" dy="5.3">10</tspan><tspan dy="-5.3"> | </tspan><tspan font-style="italic">ϕ</tspan> |</text>
</g>
</svg>
</body>
</html>
